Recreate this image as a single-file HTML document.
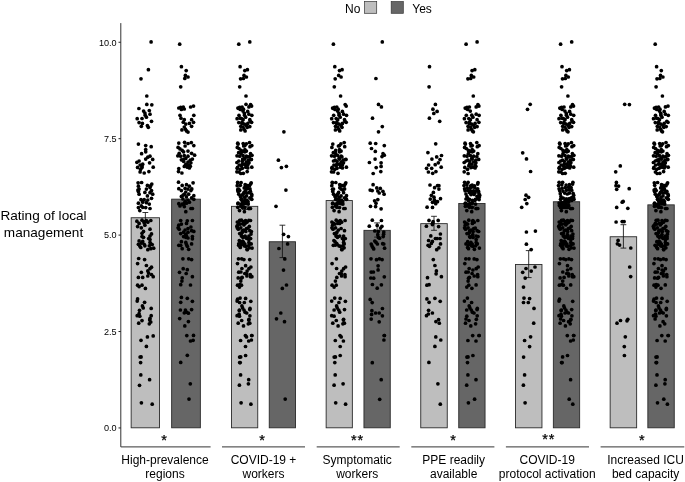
<!DOCTYPE html>
<html lang="en"><head><meta charset="utf-8"><title>Rating of local management</title>
<style>html,body{margin:0;padding:0;background:#fff}body{width:685px;height:482px;overflow:hidden}svg{display:block}text{font-family:"Liberation Sans",Arial,Helvetica,sans-serif;fill:#000}.t{font-size:9.1px;fill:#000}.l{font-size:12px}.yl{font-size:13.6px}.s{font-size:14.5px;letter-spacing:0.9px;stroke:#000;stroke-width:0.25px}</style></head><body>
<svg width="685" height="482" viewBox="0 0 685 482">
<rect width="685" height="482" fill="#fff"/>
<text class="l" x="345" y="13.1">No</text>
<rect x="364.6" y="1.6" width="12.1" height="11.7" fill="#bebebe" stroke="#333" stroke-width="0.7"/>
<rect x="391.2" y="1.6" width="12.1" height="11.7" fill="#666666" stroke="#333" stroke-width="0.7"/>
<text class="l" x="412.3" y="13.1">Yes</text>
<text class="yl" x="43.5" y="220" text-anchor="middle">Rating of local</text>
<text class="yl" x="43.5" y="236.5" text-anchor="middle">management</text>
<rect x="131.15" y="217.75" width="28.40" height="210.05" fill="#bebebe" stroke="#2a2a2a" stroke-width="0.9"/>
<rect x="171.65" y="199.15" width="28.70" height="228.65" fill="#666666" stroke="#2a2a2a" stroke-width="0.9"/>
<rect x="231.45" y="206.35" width="26.30" height="221.45" fill="#bebebe" stroke="#2a2a2a" stroke-width="0.9"/>
<rect x="269.25" y="241.75" width="26.30" height="186.05" fill="#666666" stroke="#2a2a2a" stroke-width="0.9"/>
<rect x="326.15" y="200.55" width="26.20" height="227.25" fill="#bebebe" stroke="#2a2a2a" stroke-width="0.9"/>
<rect x="363.95" y="230.35" width="26.30" height="197.45" fill="#666666" stroke="#2a2a2a" stroke-width="0.9"/>
<rect x="420.75" y="223.65" width="26.50" height="204.15" fill="#bebebe" stroke="#2a2a2a" stroke-width="0.9"/>
<rect x="458.75" y="203.45" width="26.30" height="224.35" fill="#666666" stroke="#2a2a2a" stroke-width="0.9"/>
<rect x="515.45" y="264.45" width="26.50" height="163.35" fill="#bebebe" stroke="#2a2a2a" stroke-width="0.9"/>
<rect x="553.35" y="201.75" width="26.30" height="226.05" fill="#666666" stroke="#2a2a2a" stroke-width="0.9"/>
<rect x="610.15" y="236.75" width="26.50" height="191.05" fill="#bebebe" stroke="#2a2a2a" stroke-width="0.9"/>
<rect x="647.85" y="204.85" width="26.40" height="222.95" fill="#666666" stroke="#2a2a2a" stroke-width="0.9"/>
<g stroke="#111" stroke-width="0.85" fill="none">
<path d="M142.45 212.50H148.25M145.35 212.50V222.30M142.45 222.30H148.25"/>
<path d="M183.10 194.80H188.90M186.00 194.80V202.80M183.10 202.80H188.90"/>
<path d="M241.70 202.50H247.50M244.60 202.50V209.50M241.70 209.50H247.50"/>
<path d="M279.50 225.20H285.30M282.40 225.20V257.60M279.50 257.60H285.30"/>
<path d="M336.35 196.70H342.15M339.25 196.70V203.70M336.35 203.70H342.15"/>
<path d="M374.20 222.90H380.00M377.10 222.90V237.10M374.20 237.10H380.00"/>
<path d="M431.10 216.30H436.90M434.00 216.30V230.30M431.10 230.30H436.90"/>
<path d="M469.00 199.60H474.80M471.90 199.60V206.60M469.00 206.60H474.80"/>
<path d="M525.80 250.60H531.60M528.70 250.60V277.60M525.80 277.60H531.60"/>
<path d="M563.60 197.90H569.40M566.50 197.90V204.90M563.60 204.90H569.40"/>
<path d="M620.50 224.70H626.30M623.40 224.70V248.10M620.50 248.10H626.30"/>
<path d="M658.15 201.00H663.95M661.05 201.00V208.00M658.15 208.00H663.95"/>
</g>
<g fill="#000">
<circle cx="151.1" cy="41.9" r="1.85"/>
<circle cx="148.4" cy="69.7" r="1.85"/>
<circle cx="141.0" cy="78.8" r="1.85"/>
<circle cx="146.8" cy="96.0" r="1.85"/>
<circle cx="146.8" cy="104.4" r="1.85"/>
<circle cx="151.8" cy="104.8" r="1.85"/>
<circle cx="138.9" cy="108.5" r="1.85"/>
<circle cx="143.6" cy="111.1" r="1.85"/>
<circle cx="149.3" cy="110.5" r="1.85"/>
<circle cx="144.9" cy="113.1" r="1.85"/>
<circle cx="150.0" cy="114.2" r="1.85"/>
<circle cx="145.2" cy="115.2" r="1.85"/>
<circle cx="146.4" cy="117.2" r="1.85"/>
<circle cx="142.0" cy="118.5" r="1.85"/>
<circle cx="137.2" cy="118.7" r="1.85"/>
<circle cx="151.5" cy="121.3" r="1.85"/>
<circle cx="139.1" cy="122.6" r="1.85"/>
<circle cx="142.4" cy="123.4" r="1.85"/>
<circle cx="141.3" cy="126.3" r="1.85"/>
<circle cx="147.4" cy="125.5" r="1.85"/>
<circle cx="148.3" cy="127.3" r="1.85"/>
<circle cx="138.4" cy="144.1" r="1.85"/>
<circle cx="145.7" cy="145.6" r="1.85"/>
<circle cx="151.2" cy="146.7" r="1.85"/>
<circle cx="145.7" cy="149.6" r="1.85"/>
<circle cx="145.7" cy="151.8" r="1.85"/>
<circle cx="141.6" cy="153.7" r="1.85"/>
<circle cx="150.0" cy="156.2" r="1.85"/>
<circle cx="147.8" cy="157.2" r="1.85"/>
<circle cx="145.7" cy="159.1" r="1.85"/>
<circle cx="152.7" cy="159.4" r="1.85"/>
<circle cx="139.1" cy="161.0" r="1.85"/>
<circle cx="136.9" cy="162.3" r="1.85"/>
<circle cx="149.6" cy="162.8" r="1.85"/>
<circle cx="142.7" cy="164.2" r="1.85"/>
<circle cx="140.1" cy="165.0" r="1.85"/>
<circle cx="137.6" cy="167.4" r="1.85"/>
<circle cx="142.0" cy="167.4" r="1.85"/>
<circle cx="153.2" cy="167.2" r="1.85"/>
<circle cx="140.6" cy="169.3" r="1.85"/>
<circle cx="140.1" cy="171.9" r="1.85"/>
<circle cx="144.2" cy="173.0" r="1.85"/>
<circle cx="148.9" cy="171.6" r="1.85"/>
<circle cx="138.1" cy="182.8" r="1.85"/>
<circle cx="141.6" cy="182.5" r="1.85"/>
<circle cx="151.8" cy="184.0" r="1.85"/>
<circle cx="147.4" cy="185.4" r="1.85"/>
<circle cx="138.4" cy="186.2" r="1.85"/>
<circle cx="150.0" cy="187.6" r="1.85"/>
<circle cx="139.1" cy="189.1" r="1.85"/>
<circle cx="146.4" cy="189.1" r="1.85"/>
<circle cx="151.5" cy="190.6" r="1.85"/>
<circle cx="138.4" cy="191.6" r="1.85"/>
<circle cx="144.9" cy="192.4" r="1.85"/>
<circle cx="150.0" cy="192.7" r="1.85"/>
<circle cx="152.7" cy="194.2" r="1.85"/>
<circle cx="139.1" cy="194.2" r="1.85"/>
<circle cx="147.4" cy="195.9" r="1.85"/>
<circle cx="151.5" cy="198.3" r="1.85"/>
<circle cx="141.0" cy="199.7" r="1.85"/>
<circle cx="144.2" cy="199.7" r="1.85"/>
<circle cx="147.8" cy="200.0" r="1.85"/>
<circle cx="138.4" cy="203.2" r="1.85"/>
<circle cx="142.7" cy="202.2" r="1.85"/>
<circle cx="146.4" cy="202.7" r="1.85"/>
<circle cx="149.3" cy="204.1" r="1.85"/>
<circle cx="141.3" cy="205.9" r="1.85"/>
<circle cx="138.4" cy="207.6" r="1.85"/>
<circle cx="145.7" cy="207.6" r="1.85"/>
<circle cx="150.0" cy="208.5" r="1.85"/>
<circle cx="139.8" cy="210.6" r="1.85"/>
<circle cx="142.7" cy="207.3" r="1.85"/>
<circle cx="136.9" cy="221.2" r="1.85"/>
<circle cx="142.0" cy="220.2" r="1.85"/>
<circle cx="146.4" cy="220.5" r="1.85"/>
<circle cx="150.8" cy="220.5" r="1.85"/>
<circle cx="144.2" cy="222.7" r="1.85"/>
<circle cx="139.1" cy="223.4" r="1.85"/>
<circle cx="144.9" cy="225.2" r="1.85"/>
<circle cx="137.6" cy="226.6" r="1.85"/>
<circle cx="141.3" cy="227.8" r="1.85"/>
<circle cx="150.0" cy="229.2" r="1.85"/>
<circle cx="143.5" cy="231.4" r="1.85"/>
<circle cx="142.0" cy="233.3" r="1.85"/>
<circle cx="151.5" cy="233.9" r="1.85"/>
<circle cx="147.8" cy="222.2" r="1.85"/>
<circle cx="142.0" cy="236.6" r="1.85"/>
<circle cx="150.0" cy="236.1" r="1.85"/>
<circle cx="143.5" cy="237.3" r="1.85"/>
<circle cx="150.0" cy="239.5" r="1.85"/>
<circle cx="139.1" cy="240.9" r="1.85"/>
<circle cx="142.7" cy="241.4" r="1.85"/>
<circle cx="141.3" cy="243.1" r="1.85"/>
<circle cx="138.4" cy="244.3" r="1.85"/>
<circle cx="144.2" cy="244.3" r="1.85"/>
<circle cx="150.8" cy="243.9" r="1.85"/>
<circle cx="152.2" cy="244.6" r="1.85"/>
<circle cx="139.8" cy="246.1" r="1.85"/>
<circle cx="144.9" cy="245.8" r="1.85"/>
<circle cx="149.3" cy="245.8" r="1.85"/>
<circle cx="153.7" cy="248.2" r="1.85"/>
<circle cx="150.8" cy="248.7" r="1.85"/>
<circle cx="147.8" cy="249.7" r="1.85"/>
<circle cx="150.0" cy="242.4" r="1.85"/>
<circle cx="138.7" cy="258.5" r="1.85"/>
<circle cx="144.6" cy="259.6" r="1.85"/>
<circle cx="137.6" cy="263.6" r="1.85"/>
<circle cx="146.4" cy="265.5" r="1.85"/>
<circle cx="151.5" cy="267.2" r="1.85"/>
<circle cx="150.0" cy="268.7" r="1.85"/>
<circle cx="147.8" cy="270.9" r="1.85"/>
<circle cx="141.3" cy="272.3" r="1.85"/>
<circle cx="148.6" cy="273.1" r="1.85"/>
<circle cx="151.5" cy="274.5" r="1.85"/>
<circle cx="147.8" cy="276.0" r="1.85"/>
<circle cx="153.2" cy="276.7" r="1.85"/>
<circle cx="138.4" cy="277.4" r="1.85"/>
<circle cx="142.7" cy="277.4" r="1.85"/>
<circle cx="137.6" cy="285.2" r="1.85"/>
<circle cx="142.0" cy="285.2" r="1.85"/>
<circle cx="139.1" cy="286.6" r="1.85"/>
<circle cx="145.4" cy="288.4" r="1.85"/>
<circle cx="137.6" cy="298.9" r="1.85"/>
<circle cx="137.2" cy="301.1" r="1.85"/>
<circle cx="144.6" cy="302.3" r="1.85"/>
<circle cx="142.4" cy="305.9" r="1.85"/>
<circle cx="143.2" cy="307.9" r="1.85"/>
<circle cx="151.2" cy="308.4" r="1.85"/>
<circle cx="139.5" cy="310.3" r="1.85"/>
<circle cx="139.1" cy="313.7" r="1.85"/>
<circle cx="137.2" cy="315.7" r="1.85"/>
<circle cx="139.8" cy="316.2" r="1.85"/>
<circle cx="151.2" cy="315.7" r="1.85"/>
<circle cx="150.0" cy="318.4" r="1.85"/>
<circle cx="149.7" cy="320.1" r="1.85"/>
<circle cx="142.0" cy="320.6" r="1.85"/>
<circle cx="150.8" cy="322.0" r="1.85"/>
<circle cx="138.7" cy="323.2" r="1.85"/>
<circle cx="149.3" cy="323.8" r="1.85"/>
<circle cx="153.2" cy="335.9" r="1.85"/>
<circle cx="147.4" cy="336.9" r="1.85"/>
<circle cx="141.0" cy="340.3" r="1.85"/>
<circle cx="146.4" cy="346.4" r="1.85"/>
<circle cx="140.1" cy="357.0" r="1.85"/>
<circle cx="140.6" cy="362.6" r="1.85"/>
<circle cx="140.8" cy="374.9" r="1.85"/>
<circle cx="149.6" cy="379.7" r="1.85"/>
<circle cx="139.5" cy="385.3" r="1.85"/>
<circle cx="141.4" cy="402.8" r="1.85"/>
<circle cx="152.2" cy="404.2" r="1.85"/>
<circle cx="141.1" cy="356.9" r="1.85"/>
<circle cx="137.9" cy="190.1" r="1.85"/>
<circle cx="142.6" cy="200.8" r="1.85"/>
<circle cx="140.8" cy="247.5" r="1.85"/>
<circle cx="150.7" cy="185.7" r="1.85"/>
<circle cx="144.2" cy="221.7" r="1.85"/>
<circle cx="148.7" cy="238.5" r="1.85"/>
<circle cx="142.0" cy="165.9" r="1.85"/>
<circle cx="179.7" cy="44.2" r="1.85"/>
<circle cx="181.4" cy="66.7" r="1.85"/>
<circle cx="186.2" cy="70.6" r="1.85"/>
<circle cx="185.4" cy="75.4" r="1.85"/>
<circle cx="188.0" cy="77.0" r="1.85"/>
<circle cx="184.8" cy="78.4" r="1.85"/>
<circle cx="180.7" cy="86.8" r="1.85"/>
<circle cx="178.8" cy="108.0" r="1.85"/>
<circle cx="180.7" cy="107.3" r="1.85"/>
<circle cx="183.3" cy="107.0" r="1.85"/>
<circle cx="184.3" cy="109.0" r="1.85"/>
<circle cx="181.4" cy="109.5" r="1.85"/>
<circle cx="190.6" cy="107.0" r="1.85"/>
<circle cx="193.5" cy="106.1" r="1.85"/>
<circle cx="180.0" cy="115.3" r="1.85"/>
<circle cx="193.8" cy="115.3" r="1.85"/>
<circle cx="181.0" cy="118.2" r="1.85"/>
<circle cx="184.3" cy="119.7" r="1.85"/>
<circle cx="191.6" cy="119.7" r="1.85"/>
<circle cx="183.3" cy="122.2" r="1.85"/>
<circle cx="193.5" cy="122.3" r="1.85"/>
<circle cx="189.4" cy="123.4" r="1.85"/>
<circle cx="185.8" cy="124.1" r="1.85"/>
<circle cx="191.6" cy="126.3" r="1.85"/>
<circle cx="184.3" cy="127.0" r="1.85"/>
<circle cx="181.9" cy="129.9" r="1.85"/>
<circle cx="185.4" cy="129.2" r="1.85"/>
<circle cx="186.5" cy="130.9" r="1.85"/>
<circle cx="188.0" cy="132.1" r="1.85"/>
<circle cx="178.8" cy="143.1" r="1.85"/>
<circle cx="184.6" cy="142.3" r="1.85"/>
<circle cx="188.0" cy="143.5" r="1.85"/>
<circle cx="191.3" cy="142.6" r="1.85"/>
<circle cx="193.8" cy="145.6" r="1.85"/>
<circle cx="185.1" cy="146.0" r="1.85"/>
<circle cx="178.1" cy="147.4" r="1.85"/>
<circle cx="180.0" cy="148.9" r="1.85"/>
<circle cx="182.2" cy="150.4" r="1.85"/>
<circle cx="188.0" cy="151.1" r="1.85"/>
<circle cx="183.6" cy="151.8" r="1.85"/>
<circle cx="191.6" cy="153.3" r="1.85"/>
<circle cx="179.2" cy="153.3" r="1.85"/>
<circle cx="194.6" cy="155.2" r="1.85"/>
<circle cx="177.8" cy="155.8" r="1.85"/>
<circle cx="180.7" cy="156.2" r="1.85"/>
<circle cx="184.3" cy="155.5" r="1.85"/>
<circle cx="188.0" cy="156.2" r="1.85"/>
<circle cx="185.8" cy="158.4" r="1.85"/>
<circle cx="192.4" cy="159.1" r="1.85"/>
<circle cx="181.4" cy="159.8" r="1.85"/>
<circle cx="190.2" cy="160.2" r="1.85"/>
<circle cx="183.6" cy="161.3" r="1.85"/>
<circle cx="188.0" cy="162.0" r="1.85"/>
<circle cx="190.9" cy="162.8" r="1.85"/>
<circle cx="185.8" cy="164.2" r="1.85"/>
<circle cx="189.4" cy="165.0" r="1.85"/>
<circle cx="184.3" cy="166.4" r="1.85"/>
<circle cx="187.3" cy="167.2" r="1.85"/>
<circle cx="178.8" cy="168.6" r="1.85"/>
<circle cx="189.4" cy="167.9" r="1.85"/>
<circle cx="178.5" cy="171.6" r="1.85"/>
<circle cx="181.9" cy="173.0" r="1.85"/>
<circle cx="178.5" cy="182.2" r="1.85"/>
<circle cx="193.1" cy="182.8" r="1.85"/>
<circle cx="186.5" cy="184.7" r="1.85"/>
<circle cx="182.2" cy="185.4" r="1.85"/>
<circle cx="189.4" cy="186.2" r="1.85"/>
<circle cx="178.8" cy="188.7" r="1.85"/>
<circle cx="185.1" cy="188.4" r="1.85"/>
<circle cx="188.0" cy="189.1" r="1.85"/>
<circle cx="181.4" cy="190.6" r="1.85"/>
<circle cx="190.9" cy="190.6" r="1.85"/>
<circle cx="185.8" cy="192.0" r="1.85"/>
<circle cx="184.3" cy="194.2" r="1.85"/>
<circle cx="188.7" cy="194.2" r="1.85"/>
<circle cx="193.8" cy="195.7" r="1.85"/>
<circle cx="181.4" cy="196.4" r="1.85"/>
<circle cx="186.5" cy="196.8" r="1.85"/>
<circle cx="191.6" cy="197.8" r="1.85"/>
<circle cx="182.9" cy="198.9" r="1.85"/>
<circle cx="193.8" cy="199.3" r="1.85"/>
<circle cx="188.0" cy="200.0" r="1.85"/>
<circle cx="185.1" cy="201.5" r="1.85"/>
<circle cx="178.8" cy="203.7" r="1.85"/>
<circle cx="182.2" cy="204.1" r="1.85"/>
<circle cx="186.5" cy="203.2" r="1.85"/>
<circle cx="180.0" cy="205.9" r="1.85"/>
<circle cx="184.3" cy="206.6" r="1.85"/>
<circle cx="189.4" cy="202.2" r="1.85"/>
<circle cx="190.9" cy="208.5" r="1.85"/>
<circle cx="192.4" cy="208.5" r="1.85"/>
<circle cx="185.8" cy="211.7" r="1.85"/>
<circle cx="183.6" cy="204.4" r="1.85"/>
<circle cx="180.7" cy="220.5" r="1.85"/>
<circle cx="187.3" cy="220.8" r="1.85"/>
<circle cx="192.4" cy="220.5" r="1.85"/>
<circle cx="186.5" cy="223.4" r="1.85"/>
<circle cx="178.8" cy="225.2" r="1.85"/>
<circle cx="181.4" cy="224.1" r="1.85"/>
<circle cx="190.9" cy="227.0" r="1.85"/>
<circle cx="178.1" cy="227.8" r="1.85"/>
<circle cx="188.0" cy="228.5" r="1.85"/>
<circle cx="179.2" cy="229.2" r="1.85"/>
<circle cx="185.1" cy="230.0" r="1.85"/>
<circle cx="191.6" cy="230.7" r="1.85"/>
<circle cx="183.6" cy="232.2" r="1.85"/>
<circle cx="188.0" cy="232.2" r="1.85"/>
<circle cx="193.8" cy="231.4" r="1.85"/>
<circle cx="180.7" cy="233.6" r="1.85"/>
<circle cx="185.8" cy="234.3" r="1.85"/>
<circle cx="183.6" cy="236.6" r="1.85"/>
<circle cx="186.5" cy="236.1" r="1.85"/>
<circle cx="192.4" cy="236.6" r="1.85"/>
<circle cx="188.0" cy="238.0" r="1.85"/>
<circle cx="185.8" cy="237.3" r="1.85"/>
<circle cx="192.4" cy="238.8" r="1.85"/>
<circle cx="181.4" cy="241.7" r="1.85"/>
<circle cx="185.8" cy="242.4" r="1.85"/>
<circle cx="186.5" cy="244.6" r="1.85"/>
<circle cx="191.6" cy="243.9" r="1.85"/>
<circle cx="178.8" cy="245.3" r="1.85"/>
<circle cx="180.7" cy="245.3" r="1.85"/>
<circle cx="187.3" cy="246.3" r="1.85"/>
<circle cx="182.2" cy="248.7" r="1.85"/>
<circle cx="188.7" cy="249.3" r="1.85"/>
<circle cx="182.9" cy="258.8" r="1.85"/>
<circle cx="188.7" cy="258.8" r="1.85"/>
<circle cx="191.6" cy="259.6" r="1.85"/>
<circle cx="183.2" cy="268.7" r="1.85"/>
<circle cx="187.3" cy="269.7" r="1.85"/>
<circle cx="179.5" cy="272.3" r="1.85"/>
<circle cx="186.2" cy="273.5" r="1.85"/>
<circle cx="192.4" cy="276.7" r="1.85"/>
<circle cx="182.2" cy="277.9" r="1.85"/>
<circle cx="181.9" cy="281.1" r="1.85"/>
<circle cx="180.7" cy="284.7" r="1.85"/>
<circle cx="190.5" cy="285.0" r="1.85"/>
<circle cx="181.4" cy="297.4" r="1.85"/>
<circle cx="187.3" cy="298.3" r="1.85"/>
<circle cx="192.4" cy="301.3" r="1.85"/>
<circle cx="180.7" cy="302.3" r="1.85"/>
<circle cx="180.4" cy="310.0" r="1.85"/>
<circle cx="185.4" cy="310.0" r="1.85"/>
<circle cx="191.6" cy="309.6" r="1.85"/>
<circle cx="186.5" cy="312.2" r="1.85"/>
<circle cx="184.3" cy="312.8" r="1.85"/>
<circle cx="188.4" cy="313.2" r="1.85"/>
<circle cx="179.7" cy="318.6" r="1.85"/>
<circle cx="188.4" cy="321.6" r="1.85"/>
<circle cx="184.8" cy="325.9" r="1.85"/>
<circle cx="186.8" cy="335.6" r="1.85"/>
<circle cx="193.5" cy="335.4" r="1.85"/>
<circle cx="193.1" cy="340.3" r="1.85"/>
<circle cx="190.5" cy="341.0" r="1.85"/>
<circle cx="187.3" cy="355.3" r="1.85"/>
<circle cx="180.7" cy="362.4" r="1.85"/>
<circle cx="190.3" cy="383.8" r="1.85"/>
<circle cx="189.0" cy="399.1" r="1.85"/>
<circle cx="190.3" cy="166.3" r="1.85"/>
<circle cx="183.8" cy="159.1" r="1.85"/>
<circle cx="184.6" cy="203.0" r="1.85"/>
<circle cx="187.3" cy="164.7" r="1.85"/>
<circle cx="191.8" cy="188.9" r="1.85"/>
<circle cx="183.1" cy="195.2" r="1.85"/>
<circle cx="249.8" cy="41.9" r="1.85"/>
<circle cx="247.4" cy="69.7" r="1.85"/>
<circle cx="240.6" cy="78.8" r="1.85"/>
<circle cx="246.0" cy="96.0" r="1.85"/>
<circle cx="238.8" cy="44.2" r="1.85"/>
<circle cx="240.1" cy="66.7" r="1.85"/>
<circle cx="244.8" cy="70.6" r="1.85"/>
<circle cx="244.0" cy="75.4" r="1.85"/>
<circle cx="246.4" cy="77.0" r="1.85"/>
<circle cx="243.4" cy="78.5" r="1.85"/>
<circle cx="239.7" cy="86.8" r="1.85"/>
<circle cx="246.0" cy="104.3" r="1.85"/>
<circle cx="250.6" cy="104.6" r="1.85"/>
<circle cx="238.7" cy="108.5" r="1.85"/>
<circle cx="243.0" cy="111.1" r="1.85"/>
<circle cx="247.7" cy="111.4" r="1.85"/>
<circle cx="244.4" cy="113.4" r="1.85"/>
<circle cx="248.9" cy="114.2" r="1.85"/>
<circle cx="244.5" cy="115.2" r="1.85"/>
<circle cx="245.6" cy="117.2" r="1.85"/>
<circle cx="241.5" cy="118.5" r="1.85"/>
<circle cx="237.1" cy="118.7" r="1.85"/>
<circle cx="250.3" cy="121.3" r="1.85"/>
<circle cx="238.8" cy="122.6" r="1.85"/>
<circle cx="241.9" cy="123.4" r="1.85"/>
<circle cx="240.8" cy="126.3" r="1.85"/>
<circle cx="246.5" cy="125.5" r="1.85"/>
<circle cx="247.3" cy="127.3" r="1.85"/>
<circle cx="238.1" cy="144.1" r="1.85"/>
<circle cx="244.9" cy="145.6" r="1.85"/>
<circle cx="250.0" cy="146.7" r="1.85"/>
<circle cx="244.9" cy="149.6" r="1.85"/>
<circle cx="244.9" cy="151.8" r="1.85"/>
<circle cx="241.1" cy="153.7" r="1.85"/>
<circle cx="249.5" cy="156.6" r="1.85"/>
<circle cx="247.3" cy="156.9" r="1.85"/>
<circle cx="244.9" cy="159.1" r="1.85"/>
<circle cx="251.4" cy="159.4" r="1.85"/>
<circle cx="238.8" cy="161.0" r="1.85"/>
<circle cx="236.9" cy="162.5" r="1.85"/>
<circle cx="248.6" cy="162.8" r="1.85"/>
<circle cx="242.2" cy="164.2" r="1.85"/>
<circle cx="239.2" cy="165.0" r="1.85"/>
<circle cx="237.5" cy="167.4" r="1.85"/>
<circle cx="242.3" cy="168.3" r="1.85"/>
<circle cx="251.8" cy="167.2" r="1.85"/>
<circle cx="240.2" cy="169.3" r="1.85"/>
<circle cx="237.9" cy="108.0" r="1.85"/>
<circle cx="239.7" cy="107.3" r="1.85"/>
<circle cx="242.1" cy="107.0" r="1.85"/>
<circle cx="243.5" cy="109.2" r="1.85"/>
<circle cx="240.4" cy="109.5" r="1.85"/>
<circle cx="248.9" cy="106.9" r="1.85"/>
<circle cx="251.6" cy="106.1" r="1.85"/>
<circle cx="239.0" cy="115.3" r="1.85"/>
<circle cx="251.8" cy="115.3" r="1.85"/>
<circle cx="240.0" cy="118.2" r="1.85"/>
<circle cx="243.1" cy="119.7" r="1.85"/>
<circle cx="249.8" cy="119.7" r="1.85"/>
<circle cx="242.1" cy="122.2" r="1.85"/>
<circle cx="251.6" cy="122.3" r="1.85"/>
<circle cx="247.8" cy="123.4" r="1.85"/>
<circle cx="244.4" cy="124.1" r="1.85"/>
<circle cx="249.8" cy="126.6" r="1.85"/>
<circle cx="243.1" cy="127.0" r="1.85"/>
<circle cx="240.8" cy="129.9" r="1.85"/>
<circle cx="244.0" cy="129.2" r="1.85"/>
<circle cx="245.1" cy="130.9" r="1.85"/>
<circle cx="237.7" cy="143.2" r="1.85"/>
<circle cx="243.2" cy="143.5" r="1.85"/>
<circle cx="246.3" cy="143.8" r="1.85"/>
<circle cx="249.5" cy="142.6" r="1.85"/>
<circle cx="251.8" cy="145.6" r="1.85"/>
<circle cx="243.7" cy="146.0" r="1.85"/>
<circle cx="237.3" cy="147.4" r="1.85"/>
<circle cx="239.0" cy="148.5" r="1.85"/>
<circle cx="241.1" cy="150.4" r="1.85"/>
<circle cx="246.4" cy="151.1" r="1.85"/>
<circle cx="242.8" cy="151.4" r="1.85"/>
<circle cx="250.5" cy="153.7" r="1.85"/>
<circle cx="238.6" cy="152.7" r="1.85"/>
<circle cx="252.0" cy="155.3" r="1.85"/>
<circle cx="237.0" cy="155.8" r="1.85"/>
<circle cx="239.7" cy="156.2" r="1.85"/>
<circle cx="243.1" cy="155.5" r="1.85"/>
<circle cx="246.4" cy="156.2" r="1.85"/>
<circle cx="244.4" cy="158.4" r="1.85"/>
<circle cx="250.6" cy="159.6" r="1.85"/>
<circle cx="248.5" cy="160.2" r="1.85"/>
<circle cx="242.4" cy="161.3" r="1.85"/>
<circle cx="246.4" cy="162.0" r="1.85"/>
<circle cx="248.9" cy="162.8" r="1.85"/>
<circle cx="244.4" cy="164.2" r="1.85"/>
<circle cx="247.8" cy="165.0" r="1.85"/>
<circle cx="245.8" cy="167.2" r="1.85"/>
<circle cx="237.2" cy="168.3" r="1.85"/>
<circle cx="247.8" cy="167.9" r="1.85"/>
<circle cx="239.0" cy="172.0" r="1.85"/>
<circle cx="243.3" cy="173.3" r="1.85"/>
<circle cx="247.2" cy="171.6" r="1.85"/>
<circle cx="237.9" cy="182.8" r="1.85"/>
<circle cx="241.1" cy="182.5" r="1.85"/>
<circle cx="250.6" cy="184.0" r="1.85"/>
<circle cx="246.5" cy="185.4" r="1.85"/>
<circle cx="237.2" cy="185.7" r="1.85"/>
<circle cx="247.8" cy="188.4" r="1.85"/>
<circle cx="238.8" cy="189.1" r="1.85"/>
<circle cx="245.2" cy="187.7" r="1.85"/>
<circle cx="250.4" cy="191.3" r="1.85"/>
<circle cx="238.1" cy="191.6" r="1.85"/>
<circle cx="244.0" cy="192.4" r="1.85"/>
<circle cx="248.9" cy="192.7" r="1.85"/>
<circle cx="251.6" cy="194.2" r="1.85"/>
<circle cx="238.8" cy="194.2" r="1.85"/>
<circle cx="246.5" cy="195.9" r="1.85"/>
<circle cx="251.1" cy="198.7" r="1.85"/>
<circle cx="241.1" cy="199.3" r="1.85"/>
<circle cx="244.9" cy="199.8" r="1.85"/>
<circle cx="246.9" cy="200.0" r="1.85"/>
<circle cx="238.1" cy="203.2" r="1.85"/>
<circle cx="243.1" cy="202.3" r="1.85"/>
<circle cx="246.3" cy="203.7" r="1.85"/>
<circle cx="248.3" cy="204.1" r="1.85"/>
<circle cx="240.8" cy="205.9" r="1.85"/>
<circle cx="237.8" cy="207.3" r="1.85"/>
<circle cx="244.9" cy="207.6" r="1.85"/>
<circle cx="248.8" cy="208.5" r="1.85"/>
<circle cx="239.5" cy="210.6" r="1.85"/>
<circle cx="242.2" cy="207.3" r="1.85"/>
<circle cx="237.3" cy="222.0" r="1.85"/>
<circle cx="241.5" cy="220.2" r="1.85"/>
<circle cx="245.6" cy="220.5" r="1.85"/>
<circle cx="248.9" cy="220.4" r="1.85"/>
<circle cx="243.1" cy="223.3" r="1.85"/>
<circle cx="238.8" cy="223.4" r="1.85"/>
<circle cx="243.9" cy="225.0" r="1.85"/>
<circle cx="236.9" cy="226.2" r="1.85"/>
<circle cx="240.8" cy="227.8" r="1.85"/>
<circle cx="248.0" cy="228.1" r="1.85"/>
<circle cx="242.3" cy="230.9" r="1.85"/>
<circle cx="241.5" cy="233.3" r="1.85"/>
<circle cx="251.0" cy="234.1" r="1.85"/>
<circle cx="246.9" cy="222.2" r="1.85"/>
<circle cx="236.9" cy="171.8" r="1.85"/>
<circle cx="240.8" cy="173.5" r="1.85"/>
<circle cx="237.6" cy="182.4" r="1.85"/>
<circle cx="251.2" cy="182.8" r="1.85"/>
<circle cx="245.1" cy="184.7" r="1.85"/>
<circle cx="240.3" cy="185.3" r="1.85"/>
<circle cx="248.1" cy="185.6" r="1.85"/>
<circle cx="237.9" cy="189.3" r="1.85"/>
<circle cx="244.2" cy="187.9" r="1.85"/>
<circle cx="246.4" cy="189.1" r="1.85"/>
<circle cx="239.7" cy="190.6" r="1.85"/>
<circle cx="245.3" cy="191.0" r="1.85"/>
<circle cx="243.1" cy="194.2" r="1.85"/>
<circle cx="246.7" cy="193.0" r="1.85"/>
<circle cx="251.8" cy="195.7" r="1.85"/>
<circle cx="240.4" cy="196.4" r="1.85"/>
<circle cx="244.6" cy="197.3" r="1.85"/>
<circle cx="249.8" cy="197.8" r="1.85"/>
<circle cx="241.7" cy="198.9" r="1.85"/>
<circle cx="251.8" cy="199.3" r="1.85"/>
<circle cx="245.7" cy="200.5" r="1.85"/>
<circle cx="244.4" cy="201.4" r="1.85"/>
<circle cx="237.9" cy="203.7" r="1.85"/>
<circle cx="241.1" cy="204.1" r="1.85"/>
<circle cx="245.1" cy="203.2" r="1.85"/>
<circle cx="243.1" cy="207.0" r="1.85"/>
<circle cx="248.1" cy="201.7" r="1.85"/>
<circle cx="249.1" cy="208.5" r="1.85"/>
<circle cx="250.5" cy="208.5" r="1.85"/>
<circle cx="244.4" cy="211.7" r="1.85"/>
<circle cx="242.4" cy="204.4" r="1.85"/>
<circle cx="239.7" cy="220.3" r="1.85"/>
<circle cx="245.3" cy="221.6" r="1.85"/>
<circle cx="250.5" cy="220.5" r="1.85"/>
<circle cx="245.1" cy="223.4" r="1.85"/>
<circle cx="237.9" cy="225.2" r="1.85"/>
<circle cx="240.4" cy="224.1" r="1.85"/>
<circle cx="249.3" cy="226.4" r="1.85"/>
<circle cx="237.3" cy="227.8" r="1.85"/>
<circle cx="246.4" cy="228.5" r="1.85"/>
<circle cx="238.3" cy="229.2" r="1.85"/>
<circle cx="243.7" cy="230.0" r="1.85"/>
<circle cx="249.8" cy="230.7" r="1.85"/>
<circle cx="242.4" cy="232.0" r="1.85"/>
<circle cx="245.8" cy="231.4" r="1.85"/>
<circle cx="251.4" cy="231.5" r="1.85"/>
<circle cx="239.7" cy="233.6" r="1.85"/>
<circle cx="241.4" cy="235.9" r="1.85"/>
<circle cx="248.9" cy="236.1" r="1.85"/>
<circle cx="242.9" cy="237.3" r="1.85"/>
<circle cx="248.9" cy="239.5" r="1.85"/>
<circle cx="239.3" cy="240.5" r="1.85"/>
<circle cx="242.7" cy="241.2" r="1.85"/>
<circle cx="241.9" cy="243.4" r="1.85"/>
<circle cx="238.7" cy="243.9" r="1.85"/>
<circle cx="242.4" cy="244.2" r="1.85"/>
<circle cx="249.6" cy="243.9" r="1.85"/>
<circle cx="251.2" cy="243.9" r="1.85"/>
<circle cx="239.8" cy="246.1" r="1.85"/>
<circle cx="244.2" cy="245.8" r="1.85"/>
<circle cx="248.3" cy="245.8" r="1.85"/>
<circle cx="252.1" cy="248.1" r="1.85"/>
<circle cx="249.5" cy="247.8" r="1.85"/>
<circle cx="247.2" cy="249.7" r="1.85"/>
<circle cx="248.9" cy="242.4" r="1.85"/>
<circle cx="238.5" cy="258.8" r="1.85"/>
<circle cx="243.9" cy="259.6" r="1.85"/>
<circle cx="237.5" cy="263.6" r="1.85"/>
<circle cx="245.6" cy="265.7" r="1.85"/>
<circle cx="250.9" cy="267.0" r="1.85"/>
<circle cx="248.9" cy="268.7" r="1.85"/>
<circle cx="247.1" cy="271.0" r="1.85"/>
<circle cx="240.9" cy="272.0" r="1.85"/>
<circle cx="246.7" cy="273.8" r="1.85"/>
<circle cx="250.3" cy="274.5" r="1.85"/>
<circle cx="246.9" cy="276.0" r="1.85"/>
<circle cx="251.9" cy="276.7" r="1.85"/>
<circle cx="238.2" cy="277.9" r="1.85"/>
<circle cx="242.2" cy="277.4" r="1.85"/>
<circle cx="237.5" cy="285.2" r="1.85"/>
<circle cx="241.5" cy="285.2" r="1.85"/>
<circle cx="239.5" cy="287.1" r="1.85"/>
<circle cx="237.6" cy="299.2" r="1.85"/>
<circle cx="242.4" cy="236.6" r="1.85"/>
<circle cx="245.1" cy="236.1" r="1.85"/>
<circle cx="246.6" cy="238.3" r="1.85"/>
<circle cx="245.8" cy="237.4" r="1.85"/>
<circle cx="250.6" cy="238.5" r="1.85"/>
<circle cx="240.4" cy="241.7" r="1.85"/>
<circle cx="243.6" cy="242.4" r="1.85"/>
<circle cx="244.9" cy="244.0" r="1.85"/>
<circle cx="238.7" cy="245.3" r="1.85"/>
<circle cx="240.8" cy="245.1" r="1.85"/>
<circle cx="245.8" cy="246.3" r="1.85"/>
<circle cx="247.1" cy="249.3" r="1.85"/>
<circle cx="241.7" cy="258.8" r="1.85"/>
<circle cx="249.7" cy="259.6" r="1.85"/>
<circle cx="241.9" cy="268.5" r="1.85"/>
<circle cx="238.7" cy="272.2" r="1.85"/>
<circle cx="244.8" cy="273.5" r="1.85"/>
<circle cx="250.5" cy="276.7" r="1.85"/>
<circle cx="241.2" cy="278.2" r="1.85"/>
<circle cx="240.8" cy="281.1" r="1.85"/>
<circle cx="239.8" cy="284.6" r="1.85"/>
<circle cx="240.1" cy="298.1" r="1.85"/>
<circle cx="245.6" cy="298.4" r="1.85"/>
<circle cx="237.1" cy="301.1" r="1.85"/>
<circle cx="244.3" cy="302.5" r="1.85"/>
<circle cx="241.9" cy="305.9" r="1.85"/>
<circle cx="242.6" cy="307.9" r="1.85"/>
<circle cx="250.0" cy="308.4" r="1.85"/>
<circle cx="239.3" cy="310.5" r="1.85"/>
<circle cx="239.1" cy="314.2" r="1.85"/>
<circle cx="237.1" cy="315.7" r="1.85"/>
<circle cx="239.5" cy="316.2" r="1.85"/>
<circle cx="249.9" cy="315.8" r="1.85"/>
<circle cx="249.0" cy="319.3" r="1.85"/>
<circle cx="248.7" cy="320.1" r="1.85"/>
<circle cx="241.7" cy="320.5" r="1.85"/>
<circle cx="249.8" cy="323.2" r="1.85"/>
<circle cx="238.2" cy="323.2" r="1.85"/>
<circle cx="248.3" cy="323.8" r="1.85"/>
<circle cx="251.8" cy="335.5" r="1.85"/>
<circle cx="246.5" cy="336.9" r="1.85"/>
<circle cx="240.6" cy="340.5" r="1.85"/>
<circle cx="245.5" cy="346.5" r="1.85"/>
<circle cx="239.6" cy="357.1" r="1.85"/>
<circle cx="240.2" cy="362.6" r="1.85"/>
<circle cx="250.8" cy="301.3" r="1.85"/>
<circle cx="239.6" cy="302.5" r="1.85"/>
<circle cx="239.4" cy="310.0" r="1.85"/>
<circle cx="244.0" cy="310.0" r="1.85"/>
<circle cx="249.8" cy="309.6" r="1.85"/>
<circle cx="245.1" cy="312.2" r="1.85"/>
<circle cx="246.7" cy="313.0" r="1.85"/>
<circle cx="243.5" cy="325.9" r="1.85"/>
<circle cx="245.4" cy="335.6" r="1.85"/>
<circle cx="251.8" cy="335.5" r="1.85"/>
<circle cx="251.4" cy="340.0" r="1.85"/>
<circle cx="248.7" cy="341.0" r="1.85"/>
<circle cx="245.6" cy="355.5" r="1.85"/>
<circle cx="239.7" cy="362.6" r="1.85"/>
<circle cx="240.6" cy="374.9" r="1.85"/>
<circle cx="248.7" cy="379.7" r="1.85"/>
<circle cx="239.4" cy="385.2" r="1.85"/>
<circle cx="241.1" cy="402.8" r="1.85"/>
<circle cx="250.9" cy="404.2" r="1.85"/>
<circle cx="248.4" cy="383.8" r="1.85"/>
<circle cx="240.7" cy="356.9" r="1.85"/>
<circle cx="242.6" cy="159.1" r="1.85"/>
<circle cx="237.7" cy="190.1" r="1.85"/>
<circle cx="242.1" cy="200.8" r="1.85"/>
<circle cx="243.3" cy="203.0" r="1.85"/>
<circle cx="240.3" cy="247.5" r="1.85"/>
<circle cx="245.8" cy="164.7" r="1.85"/>
<circle cx="249.5" cy="185.7" r="1.85"/>
<circle cx="250.0" cy="188.9" r="1.85"/>
<circle cx="241.9" cy="195.2" r="1.85"/>
<circle cx="243.6" cy="221.7" r="1.85"/>
<circle cx="247.7" cy="238.5" r="1.85"/>
<circle cx="241.5" cy="165.9" r="1.85"/>
<circle cx="283.9" cy="131.8" r="1.85"/>
<circle cx="278.4" cy="160.2" r="1.85"/>
<circle cx="281.4" cy="167.6" r="1.85"/>
<circle cx="286.4" cy="166.3" r="1.85"/>
<circle cx="285.9" cy="190.1" r="1.85"/>
<circle cx="276.0" cy="206.3" r="1.85"/>
<circle cx="283.6" cy="234.3" r="1.85"/>
<circle cx="288.4" cy="236.6" r="1.85"/>
<circle cx="287.6" cy="243.9" r="1.85"/>
<circle cx="278.9" cy="248.5" r="1.85"/>
<circle cx="284.8" cy="258.9" r="1.85"/>
<circle cx="283.5" cy="270.1" r="1.85"/>
<circle cx="286.5" cy="285.0" r="1.85"/>
<circle cx="282.3" cy="288.4" r="1.85"/>
<circle cx="280.8" cy="313.0" r="1.85"/>
<circle cx="276.5" cy="318.8" r="1.85"/>
<circle cx="284.5" cy="321.7" r="1.85"/>
<circle cx="285.2" cy="399.1" r="1.85"/>
<circle cx="342.1" cy="69.7" r="1.85"/>
<circle cx="335.2" cy="78.8" r="1.85"/>
<circle cx="340.6" cy="96.0" r="1.85"/>
<circle cx="333.4" cy="44.2" r="1.85"/>
<circle cx="334.8" cy="66.7" r="1.85"/>
<circle cx="339.5" cy="70.6" r="1.85"/>
<circle cx="338.7" cy="75.4" r="1.85"/>
<circle cx="341.1" cy="77.0" r="1.85"/>
<circle cx="334.3" cy="86.8" r="1.85"/>
<circle cx="345.2" cy="104.6" r="1.85"/>
<circle cx="333.3" cy="108.5" r="1.85"/>
<circle cx="337.6" cy="111.1" r="1.85"/>
<circle cx="342.4" cy="111.4" r="1.85"/>
<circle cx="339.0" cy="113.4" r="1.85"/>
<circle cx="343.6" cy="114.2" r="1.85"/>
<circle cx="339.1" cy="115.2" r="1.85"/>
<circle cx="340.2" cy="117.2" r="1.85"/>
<circle cx="336.2" cy="118.5" r="1.85"/>
<circle cx="331.7" cy="118.7" r="1.85"/>
<circle cx="345.0" cy="121.3" r="1.85"/>
<circle cx="333.5" cy="122.6" r="1.85"/>
<circle cx="336.6" cy="123.4" r="1.85"/>
<circle cx="335.5" cy="126.3" r="1.85"/>
<circle cx="341.1" cy="125.5" r="1.85"/>
<circle cx="342.0" cy="127.3" r="1.85"/>
<circle cx="332.8" cy="144.1" r="1.85"/>
<circle cx="339.5" cy="145.6" r="1.85"/>
<circle cx="344.7" cy="146.7" r="1.85"/>
<circle cx="339.5" cy="149.6" r="1.85"/>
<circle cx="339.5" cy="151.8" r="1.85"/>
<circle cx="335.8" cy="153.7" r="1.85"/>
<circle cx="341.9" cy="156.9" r="1.85"/>
<circle cx="339.5" cy="159.1" r="1.85"/>
<circle cx="346.0" cy="159.4" r="1.85"/>
<circle cx="333.5" cy="161.0" r="1.85"/>
<circle cx="336.8" cy="164.2" r="1.85"/>
<circle cx="333.9" cy="165.0" r="1.85"/>
<circle cx="332.1" cy="167.4" r="1.85"/>
<circle cx="337.0" cy="168.3" r="1.85"/>
<circle cx="346.4" cy="167.2" r="1.85"/>
<circle cx="334.8" cy="169.3" r="1.85"/>
<circle cx="332.6" cy="108.0" r="1.85"/>
<circle cx="334.4" cy="107.3" r="1.85"/>
<circle cx="336.8" cy="107.0" r="1.85"/>
<circle cx="338.2" cy="109.2" r="1.85"/>
<circle cx="335.0" cy="109.5" r="1.85"/>
<circle cx="346.2" cy="106.1" r="1.85"/>
<circle cx="333.7" cy="115.3" r="1.85"/>
<circle cx="346.5" cy="115.3" r="1.85"/>
<circle cx="337.7" cy="119.7" r="1.85"/>
<circle cx="344.5" cy="119.7" r="1.85"/>
<circle cx="336.8" cy="122.2" r="1.85"/>
<circle cx="346.2" cy="122.3" r="1.85"/>
<circle cx="342.4" cy="123.4" r="1.85"/>
<circle cx="339.1" cy="124.1" r="1.85"/>
<circle cx="337.7" cy="127.0" r="1.85"/>
<circle cx="335.4" cy="129.9" r="1.85"/>
<circle cx="338.7" cy="129.2" r="1.85"/>
<circle cx="339.7" cy="130.9" r="1.85"/>
<circle cx="340.9" cy="143.8" r="1.85"/>
<circle cx="344.2" cy="142.6" r="1.85"/>
<circle cx="338.4" cy="146.0" r="1.85"/>
<circle cx="331.9" cy="147.4" r="1.85"/>
<circle cx="335.7" cy="150.4" r="1.85"/>
<circle cx="341.1" cy="151.1" r="1.85"/>
<circle cx="333.3" cy="152.7" r="1.85"/>
<circle cx="331.6" cy="155.8" r="1.85"/>
<circle cx="334.4" cy="156.2" r="1.85"/>
<circle cx="337.7" cy="155.5" r="1.85"/>
<circle cx="341.1" cy="156.2" r="1.85"/>
<circle cx="339.1" cy="158.4" r="1.85"/>
<circle cx="345.3" cy="159.6" r="1.85"/>
<circle cx="335.2" cy="160.2" r="1.85"/>
<circle cx="343.1" cy="160.2" r="1.85"/>
<circle cx="337.0" cy="161.3" r="1.85"/>
<circle cx="341.1" cy="162.0" r="1.85"/>
<circle cx="343.5" cy="162.8" r="1.85"/>
<circle cx="339.1" cy="164.2" r="1.85"/>
<circle cx="342.4" cy="165.0" r="1.85"/>
<circle cx="340.4" cy="167.2" r="1.85"/>
<circle cx="331.9" cy="168.3" r="1.85"/>
<circle cx="342.4" cy="167.9" r="1.85"/>
<circle cx="333.6" cy="172.0" r="1.85"/>
<circle cx="338.0" cy="173.3" r="1.85"/>
<circle cx="332.5" cy="182.8" r="1.85"/>
<circle cx="335.8" cy="182.5" r="1.85"/>
<circle cx="345.2" cy="184.0" r="1.85"/>
<circle cx="341.1" cy="185.4" r="1.85"/>
<circle cx="331.8" cy="185.7" r="1.85"/>
<circle cx="333.5" cy="189.1" r="1.85"/>
<circle cx="339.8" cy="187.7" r="1.85"/>
<circle cx="332.8" cy="191.6" r="1.85"/>
<circle cx="338.6" cy="192.4" r="1.85"/>
<circle cx="343.6" cy="192.7" r="1.85"/>
<circle cx="333.5" cy="194.2" r="1.85"/>
<circle cx="341.1" cy="195.9" r="1.85"/>
<circle cx="345.8" cy="198.7" r="1.85"/>
<circle cx="335.7" cy="199.3" r="1.85"/>
<circle cx="339.5" cy="199.8" r="1.85"/>
<circle cx="341.6" cy="200.0" r="1.85"/>
<circle cx="332.8" cy="203.2" r="1.85"/>
<circle cx="337.8" cy="202.3" r="1.85"/>
<circle cx="341.0" cy="203.7" r="1.85"/>
<circle cx="342.9" cy="204.1" r="1.85"/>
<circle cx="335.5" cy="205.9" r="1.85"/>
<circle cx="332.4" cy="207.3" r="1.85"/>
<circle cx="339.5" cy="207.6" r="1.85"/>
<circle cx="334.1" cy="210.6" r="1.85"/>
<circle cx="336.8" cy="207.3" r="1.85"/>
<circle cx="331.9" cy="222.0" r="1.85"/>
<circle cx="336.2" cy="220.2" r="1.85"/>
<circle cx="340.2" cy="220.5" r="1.85"/>
<circle cx="337.8" cy="223.3" r="1.85"/>
<circle cx="333.5" cy="223.4" r="1.85"/>
<circle cx="335.5" cy="227.8" r="1.85"/>
<circle cx="336.2" cy="233.3" r="1.85"/>
<circle cx="341.6" cy="222.2" r="1.85"/>
<circle cx="331.5" cy="171.8" r="1.85"/>
<circle cx="332.2" cy="182.4" r="1.85"/>
<circle cx="345.8" cy="182.8" r="1.85"/>
<circle cx="339.7" cy="184.7" r="1.85"/>
<circle cx="342.7" cy="185.6" r="1.85"/>
<circle cx="332.5" cy="189.3" r="1.85"/>
<circle cx="341.1" cy="189.1" r="1.85"/>
<circle cx="342.8" cy="190.1" r="1.85"/>
<circle cx="337.7" cy="194.2" r="1.85"/>
<circle cx="346.5" cy="195.7" r="1.85"/>
<circle cx="335.0" cy="196.4" r="1.85"/>
<circle cx="339.2" cy="197.3" r="1.85"/>
<circle cx="344.5" cy="197.8" r="1.85"/>
<circle cx="336.4" cy="198.9" r="1.85"/>
<circle cx="346.5" cy="199.3" r="1.85"/>
<circle cx="339.1" cy="201.4" r="1.85"/>
<circle cx="332.6" cy="203.7" r="1.85"/>
<circle cx="335.7" cy="204.1" r="1.85"/>
<circle cx="339.7" cy="203.2" r="1.85"/>
<circle cx="342.7" cy="201.7" r="1.85"/>
<circle cx="343.8" cy="208.5" r="1.85"/>
<circle cx="345.1" cy="208.5" r="1.85"/>
<circle cx="339.1" cy="211.7" r="1.85"/>
<circle cx="337.0" cy="204.4" r="1.85"/>
<circle cx="340.0" cy="221.6" r="1.85"/>
<circle cx="345.1" cy="220.5" r="1.85"/>
<circle cx="339.7" cy="223.4" r="1.85"/>
<circle cx="332.6" cy="225.2" r="1.85"/>
<circle cx="335.0" cy="224.1" r="1.85"/>
<circle cx="331.9" cy="227.8" r="1.85"/>
<circle cx="341.1" cy="228.5" r="1.85"/>
<circle cx="333.0" cy="229.2" r="1.85"/>
<circle cx="338.4" cy="230.0" r="1.85"/>
<circle cx="344.5" cy="230.7" r="1.85"/>
<circle cx="337.0" cy="232.0" r="1.85"/>
<circle cx="334.4" cy="233.6" r="1.85"/>
<circle cx="336.0" cy="235.9" r="1.85"/>
<circle cx="343.6" cy="236.1" r="1.85"/>
<circle cx="337.5" cy="237.3" r="1.85"/>
<circle cx="343.6" cy="239.5" r="1.85"/>
<circle cx="333.9" cy="240.5" r="1.85"/>
<circle cx="336.5" cy="243.4" r="1.85"/>
<circle cx="337.0" cy="244.2" r="1.85"/>
<circle cx="344.2" cy="243.9" r="1.85"/>
<circle cx="338.9" cy="245.8" r="1.85"/>
<circle cx="342.9" cy="245.8" r="1.85"/>
<circle cx="344.1" cy="247.8" r="1.85"/>
<circle cx="341.9" cy="249.7" r="1.85"/>
<circle cx="343.6" cy="242.4" r="1.85"/>
<circle cx="332.1" cy="263.6" r="1.85"/>
<circle cx="345.6" cy="267.0" r="1.85"/>
<circle cx="343.6" cy="268.7" r="1.85"/>
<circle cx="341.8" cy="271.0" r="1.85"/>
<circle cx="341.3" cy="273.8" r="1.85"/>
<circle cx="344.9" cy="274.5" r="1.85"/>
<circle cx="341.6" cy="276.0" r="1.85"/>
<circle cx="336.8" cy="277.4" r="1.85"/>
<circle cx="332.1" cy="285.2" r="1.85"/>
<circle cx="336.2" cy="285.2" r="1.85"/>
<circle cx="334.1" cy="287.1" r="1.85"/>
<circle cx="337.0" cy="236.6" r="1.85"/>
<circle cx="339.7" cy="236.1" r="1.85"/>
<circle cx="345.3" cy="238.5" r="1.85"/>
<circle cx="335.0" cy="241.7" r="1.85"/>
<circle cx="333.3" cy="245.3" r="1.85"/>
<circle cx="335.4" cy="245.1" r="1.85"/>
<circle cx="340.4" cy="246.3" r="1.85"/>
<circle cx="341.8" cy="249.3" r="1.85"/>
<circle cx="336.4" cy="258.8" r="1.85"/>
<circle cx="336.6" cy="268.5" r="1.85"/>
<circle cx="339.5" cy="273.5" r="1.85"/>
<circle cx="345.1" cy="276.7" r="1.85"/>
<circle cx="335.4" cy="281.1" r="1.85"/>
<circle cx="334.7" cy="298.1" r="1.85"/>
<circle cx="340.2" cy="298.4" r="1.85"/>
<circle cx="331.7" cy="301.1" r="1.85"/>
<circle cx="338.9" cy="302.5" r="1.85"/>
<circle cx="336.6" cy="305.9" r="1.85"/>
<circle cx="337.2" cy="307.9" r="1.85"/>
<circle cx="331.7" cy="315.7" r="1.85"/>
<circle cx="334.1" cy="316.2" r="1.85"/>
<circle cx="343.6" cy="319.3" r="1.85"/>
<circle cx="343.4" cy="320.1" r="1.85"/>
<circle cx="336.3" cy="320.5" r="1.85"/>
<circle cx="344.4" cy="323.2" r="1.85"/>
<circle cx="332.8" cy="323.2" r="1.85"/>
<circle cx="342.9" cy="323.8" r="1.85"/>
<circle cx="341.2" cy="336.9" r="1.85"/>
<circle cx="335.3" cy="340.5" r="1.85"/>
<circle cx="340.2" cy="346.5" r="1.85"/>
<circle cx="334.2" cy="357.1" r="1.85"/>
<circle cx="334.8" cy="362.6" r="1.85"/>
<circle cx="345.4" cy="301.3" r="1.85"/>
<circle cx="334.1" cy="310.0" r="1.85"/>
<circle cx="338.7" cy="310.0" r="1.85"/>
<circle cx="344.5" cy="309.6" r="1.85"/>
<circle cx="339.7" cy="312.2" r="1.85"/>
<circle cx="338.1" cy="325.9" r="1.85"/>
<circle cx="340.0" cy="335.6" r="1.85"/>
<circle cx="343.4" cy="341.0" r="1.85"/>
<circle cx="340.2" cy="355.5" r="1.85"/>
<circle cx="335.2" cy="374.9" r="1.85"/>
<circle cx="334.1" cy="385.2" r="1.85"/>
<circle cx="335.7" cy="402.8" r="1.85"/>
<circle cx="345.6" cy="404.2" r="1.85"/>
<circle cx="343.1" cy="383.8" r="1.85"/>
<circle cx="335.4" cy="356.9" r="1.85"/>
<circle cx="340.5" cy="164.7" r="1.85"/>
<circle cx="344.2" cy="185.7" r="1.85"/>
<circle cx="344.6" cy="188.9" r="1.85"/>
<circle cx="336.6" cy="195.2" r="1.85"/>
<circle cx="338.2" cy="221.7" r="1.85"/>
<circle cx="342.4" cy="238.5" r="1.85"/>
<circle cx="336.2" cy="165.9" r="1.85"/>
<circle cx="382.3" cy="41.9" r="1.85"/>
<circle cx="375.9" cy="78.5" r="1.85"/>
<circle cx="378.5" cy="104.4" r="1.85"/>
<circle cx="381.4" cy="106.9" r="1.85"/>
<circle cx="372.5" cy="118.2" r="1.85"/>
<circle cx="382.3" cy="126.6" r="1.85"/>
<circle cx="378.5" cy="131.8" r="1.85"/>
<circle cx="370.2" cy="143.2" r="1.85"/>
<circle cx="375.7" cy="143.5" r="1.85"/>
<circle cx="384.3" cy="145.6" r="1.85"/>
<circle cx="371.5" cy="148.5" r="1.85"/>
<circle cx="375.3" cy="151.4" r="1.85"/>
<circle cx="383.0" cy="153.7" r="1.85"/>
<circle cx="384.3" cy="155.2" r="1.85"/>
<circle cx="382.0" cy="156.6" r="1.85"/>
<circle cx="375.1" cy="159.1" r="1.85"/>
<circle cx="369.4" cy="162.5" r="1.85"/>
<circle cx="381.1" cy="162.8" r="1.85"/>
<circle cx="381.1" cy="166.4" r="1.85"/>
<circle cx="376.2" cy="167.6" r="1.85"/>
<circle cx="380.8" cy="171.6" r="1.85"/>
<circle cx="373.2" cy="173.5" r="1.85"/>
<circle cx="373.1" cy="184.7" r="1.85"/>
<circle cx="376.8" cy="187.9" r="1.85"/>
<circle cx="380.3" cy="188.4" r="1.85"/>
<circle cx="370.2" cy="190.1" r="1.85"/>
<circle cx="372.2" cy="190.6" r="1.85"/>
<circle cx="377.8" cy="191.0" r="1.85"/>
<circle cx="382.9" cy="191.3" r="1.85"/>
<circle cx="379.2" cy="193.0" r="1.85"/>
<circle cx="384.1" cy="194.2" r="1.85"/>
<circle cx="377.8" cy="199.6" r="1.85"/>
<circle cx="374.6" cy="200.8" r="1.85"/>
<circle cx="376.0" cy="203.2" r="1.85"/>
<circle cx="370.5" cy="206.3" r="1.85"/>
<circle cx="375.6" cy="206.6" r="1.85"/>
<circle cx="381.1" cy="208.8" r="1.85"/>
<circle cx="372.3" cy="220.2" r="1.85"/>
<circle cx="381.4" cy="220.5" r="1.85"/>
<circle cx="369.3" cy="226.2" r="1.85"/>
<circle cx="377.2" cy="225.4" r="1.85"/>
<circle cx="381.9" cy="226.3" r="1.85"/>
<circle cx="380.5" cy="228.1" r="1.85"/>
<circle cx="374.8" cy="230.9" r="1.85"/>
<circle cx="378.3" cy="231.4" r="1.85"/>
<circle cx="383.8" cy="232.0" r="1.85"/>
<circle cx="377.8" cy="234.7" r="1.85"/>
<circle cx="383.6" cy="234.2" r="1.85"/>
<circle cx="383.2" cy="236.6" r="1.85"/>
<circle cx="378.3" cy="237.4" r="1.85"/>
<circle cx="379.6" cy="238.2" r="1.85"/>
<circle cx="374.8" cy="241.1" r="1.85"/>
<circle cx="376.1" cy="242.4" r="1.85"/>
<circle cx="377.4" cy="244.0" r="1.85"/>
<circle cx="371.2" cy="244.0" r="1.85"/>
<circle cx="372.0" cy="245.9" r="1.85"/>
<circle cx="372.9" cy="247.5" r="1.85"/>
<circle cx="373.7" cy="248.9" r="1.85"/>
<circle cx="382.7" cy="243.7" r="1.85"/>
<circle cx="383.8" cy="244.0" r="1.85"/>
<circle cx="384.6" cy="248.2" r="1.85"/>
<circle cx="371.0" cy="258.8" r="1.85"/>
<circle cx="376.5" cy="259.7" r="1.85"/>
<circle cx="379.4" cy="258.8" r="1.85"/>
<circle cx="382.1" cy="259.6" r="1.85"/>
<circle cx="378.1" cy="265.8" r="1.85"/>
<circle cx="378.1" cy="269.9" r="1.85"/>
<circle cx="371.2" cy="272.1" r="1.85"/>
<circle cx="373.4" cy="272.0" r="1.85"/>
<circle cx="384.3" cy="276.8" r="1.85"/>
<circle cx="370.8" cy="278.0" r="1.85"/>
<circle cx="373.7" cy="278.2" r="1.85"/>
<circle cx="372.4" cy="284.5" r="1.85"/>
<circle cx="381.4" cy="284.8" r="1.85"/>
<circle cx="377.2" cy="288.2" r="1.85"/>
<circle cx="370.2" cy="299.4" r="1.85"/>
<circle cx="372.2" cy="302.6" r="1.85"/>
<circle cx="382.4" cy="308.5" r="1.85"/>
<circle cx="371.9" cy="310.7" r="1.85"/>
<circle cx="375.6" cy="313.0" r="1.85"/>
<circle cx="379.2" cy="313.0" r="1.85"/>
<circle cx="371.6" cy="314.4" r="1.85"/>
<circle cx="382.4" cy="315.8" r="1.85"/>
<circle cx="371.2" cy="319.1" r="1.85"/>
<circle cx="379.2" cy="321.8" r="1.85"/>
<circle cx="384.3" cy="335.5" r="1.85"/>
<circle cx="384.3" cy="335.5" r="1.85"/>
<circle cx="383.9" cy="340.0" r="1.85"/>
<circle cx="372.3" cy="362.7" r="1.85"/>
<circle cx="381.2" cy="379.7" r="1.85"/>
<circle cx="379.7" cy="399.3" r="1.85"/>
<circle cx="429.5" cy="66.7" r="1.85"/>
<circle cx="429.1" cy="86.8" r="1.85"/>
<circle cx="435.4" cy="104.4" r="1.85"/>
<circle cx="432.9" cy="109.2" r="1.85"/>
<circle cx="437.1" cy="111.4" r="1.85"/>
<circle cx="433.8" cy="113.4" r="1.85"/>
<circle cx="429.4" cy="118.2" r="1.85"/>
<circle cx="439.7" cy="121.3" r="1.85"/>
<circle cx="435.7" cy="143.8" r="1.85"/>
<circle cx="427.9" cy="152.6" r="1.85"/>
<circle cx="441.5" cy="155.5" r="1.85"/>
<circle cx="436.7" cy="156.9" r="1.85"/>
<circle cx="431.9" cy="159.1" r="1.85"/>
<circle cx="440.0" cy="159.6" r="1.85"/>
<circle cx="438.3" cy="162.8" r="1.85"/>
<circle cx="435.2" cy="164.7" r="1.85"/>
<circle cx="428.6" cy="165.0" r="1.85"/>
<circle cx="441.2" cy="167.2" r="1.85"/>
<circle cx="426.6" cy="168.3" r="1.85"/>
<circle cx="431.7" cy="168.3" r="1.85"/>
<circle cx="428.4" cy="172.0" r="1.85"/>
<circle cx="432.7" cy="173.3" r="1.85"/>
<circle cx="435.9" cy="171.6" r="1.85"/>
<circle cx="430.0" cy="185.0" r="1.85"/>
<circle cx="434.6" cy="187.7" r="1.85"/>
<circle cx="437.5" cy="185.6" r="1.85"/>
<circle cx="438.9" cy="185.7" r="1.85"/>
<circle cx="438.9" cy="189.1" r="1.85"/>
<circle cx="433.4" cy="192.4" r="1.85"/>
<circle cx="431.4" cy="195.3" r="1.85"/>
<circle cx="434.0" cy="197.2" r="1.85"/>
<circle cx="430.3" cy="199.1" r="1.85"/>
<circle cx="440.5" cy="198.7" r="1.85"/>
<circle cx="434.3" cy="199.8" r="1.85"/>
<circle cx="435.4" cy="201.3" r="1.85"/>
<circle cx="437.5" cy="201.7" r="1.85"/>
<circle cx="432.5" cy="202.3" r="1.85"/>
<circle cx="435.7" cy="203.7" r="1.85"/>
<circle cx="427.1" cy="207.2" r="1.85"/>
<circle cx="432.5" cy="207.4" r="1.85"/>
<circle cx="429.0" cy="220.4" r="1.85"/>
<circle cx="438.2" cy="220.4" r="1.85"/>
<circle cx="433.1" cy="221.7" r="1.85"/>
<circle cx="432.5" cy="223.3" r="1.85"/>
<circle cx="432.4" cy="224.6" r="1.85"/>
<circle cx="426.4" cy="226.2" r="1.85"/>
<circle cx="438.6" cy="226.6" r="1.85"/>
<circle cx="440.4" cy="234.0" r="1.85"/>
<circle cx="430.8" cy="235.9" r="1.85"/>
<circle cx="435.4" cy="238.5" r="1.85"/>
<circle cx="437.1" cy="238.5" r="1.85"/>
<circle cx="440.0" cy="238.5" r="1.85"/>
<circle cx="428.6" cy="240.5" r="1.85"/>
<circle cx="432.4" cy="241.4" r="1.85"/>
<circle cx="431.3" cy="243.4" r="1.85"/>
<circle cx="440.5" cy="243.9" r="1.85"/>
<circle cx="428.1" cy="245.3" r="1.85"/>
<circle cx="429.5" cy="246.3" r="1.85"/>
<circle cx="438.9" cy="247.8" r="1.85"/>
<circle cx="436.7" cy="249.7" r="1.85"/>
<circle cx="433.3" cy="259.6" r="1.85"/>
<circle cx="434.9" cy="265.5" r="1.85"/>
<circle cx="436.4" cy="270.9" r="1.85"/>
<circle cx="436.1" cy="273.8" r="1.85"/>
<circle cx="441.4" cy="276.7" r="1.85"/>
<circle cx="427.5" cy="277.7" r="1.85"/>
<circle cx="429.1" cy="284.7" r="1.85"/>
<circle cx="426.9" cy="285.2" r="1.85"/>
<circle cx="426.9" cy="298.9" r="1.85"/>
<circle cx="434.9" cy="298.3" r="1.85"/>
<circle cx="440.2" cy="301.3" r="1.85"/>
<circle cx="429.1" cy="302.3" r="1.85"/>
<circle cx="428.6" cy="310.3" r="1.85"/>
<circle cx="432.4" cy="313.0" r="1.85"/>
<circle cx="428.4" cy="314.0" r="1.85"/>
<circle cx="426.5" cy="315.7" r="1.85"/>
<circle cx="438.6" cy="319.5" r="1.85"/>
<circle cx="435.9" cy="321.6" r="1.85"/>
<circle cx="439.3" cy="323.2" r="1.85"/>
<circle cx="435.8" cy="336.9" r="1.85"/>
<circle cx="440.8" cy="340.0" r="1.85"/>
<circle cx="434.9" cy="346.4" r="1.85"/>
<circle cx="428.9" cy="362.4" r="1.85"/>
<circle cx="437.9" cy="383.8" r="1.85"/>
<circle cx="440.3" cy="404.2" r="1.85"/>
<circle cx="477.1" cy="41.9" r="1.85"/>
<circle cx="474.8" cy="69.7" r="1.85"/>
<circle cx="467.9" cy="78.8" r="1.85"/>
<circle cx="473.3" cy="96.0" r="1.85"/>
<circle cx="466.1" cy="44.2" r="1.85"/>
<circle cx="472.1" cy="70.6" r="1.85"/>
<circle cx="471.3" cy="75.4" r="1.85"/>
<circle cx="473.7" cy="77.0" r="1.85"/>
<circle cx="470.7" cy="78.5" r="1.85"/>
<circle cx="477.9" cy="104.6" r="1.85"/>
<circle cx="466.0" cy="108.5" r="1.85"/>
<circle cx="470.3" cy="111.1" r="1.85"/>
<circle cx="476.2" cy="114.2" r="1.85"/>
<circle cx="471.8" cy="115.2" r="1.85"/>
<circle cx="472.9" cy="117.2" r="1.85"/>
<circle cx="468.8" cy="118.5" r="1.85"/>
<circle cx="464.4" cy="118.7" r="1.85"/>
<circle cx="466.1" cy="122.6" r="1.85"/>
<circle cx="469.2" cy="123.4" r="1.85"/>
<circle cx="468.1" cy="126.3" r="1.85"/>
<circle cx="473.8" cy="125.5" r="1.85"/>
<circle cx="474.6" cy="127.3" r="1.85"/>
<circle cx="465.4" cy="144.1" r="1.85"/>
<circle cx="472.2" cy="145.6" r="1.85"/>
<circle cx="477.3" cy="146.7" r="1.85"/>
<circle cx="472.2" cy="149.6" r="1.85"/>
<circle cx="472.2" cy="151.8" r="1.85"/>
<circle cx="468.4" cy="153.7" r="1.85"/>
<circle cx="476.8" cy="156.6" r="1.85"/>
<circle cx="472.2" cy="159.1" r="1.85"/>
<circle cx="478.7" cy="159.4" r="1.85"/>
<circle cx="466.1" cy="161.0" r="1.85"/>
<circle cx="464.2" cy="162.5" r="1.85"/>
<circle cx="475.9" cy="162.8" r="1.85"/>
<circle cx="469.5" cy="164.2" r="1.85"/>
<circle cx="464.8" cy="167.4" r="1.85"/>
<circle cx="467.5" cy="169.3" r="1.85"/>
<circle cx="465.2" cy="108.0" r="1.85"/>
<circle cx="467.0" cy="107.3" r="1.85"/>
<circle cx="469.4" cy="107.0" r="1.85"/>
<circle cx="467.7" cy="109.5" r="1.85"/>
<circle cx="476.2" cy="106.9" r="1.85"/>
<circle cx="478.9" cy="106.1" r="1.85"/>
<circle cx="466.3" cy="115.3" r="1.85"/>
<circle cx="479.1" cy="115.3" r="1.85"/>
<circle cx="470.4" cy="119.7" r="1.85"/>
<circle cx="477.1" cy="119.7" r="1.85"/>
<circle cx="469.4" cy="122.2" r="1.85"/>
<circle cx="478.9" cy="122.3" r="1.85"/>
<circle cx="475.1" cy="123.4" r="1.85"/>
<circle cx="471.7" cy="124.1" r="1.85"/>
<circle cx="477.1" cy="126.6" r="1.85"/>
<circle cx="470.4" cy="127.0" r="1.85"/>
<circle cx="468.1" cy="129.9" r="1.85"/>
<circle cx="471.3" cy="129.2" r="1.85"/>
<circle cx="472.4" cy="130.9" r="1.85"/>
<circle cx="473.4" cy="131.8" r="1.85"/>
<circle cx="465.0" cy="143.2" r="1.85"/>
<circle cx="470.5" cy="143.5" r="1.85"/>
<circle cx="476.8" cy="142.6" r="1.85"/>
<circle cx="479.1" cy="145.6" r="1.85"/>
<circle cx="471.0" cy="146.0" r="1.85"/>
<circle cx="464.6" cy="147.4" r="1.85"/>
<circle cx="466.3" cy="148.5" r="1.85"/>
<circle cx="468.4" cy="150.4" r="1.85"/>
<circle cx="473.7" cy="151.1" r="1.85"/>
<circle cx="470.1" cy="151.4" r="1.85"/>
<circle cx="477.8" cy="153.7" r="1.85"/>
<circle cx="464.3" cy="155.8" r="1.85"/>
<circle cx="467.0" cy="156.2" r="1.85"/>
<circle cx="470.4" cy="155.5" r="1.85"/>
<circle cx="473.7" cy="156.2" r="1.85"/>
<circle cx="471.7" cy="158.4" r="1.85"/>
<circle cx="467.9" cy="160.2" r="1.85"/>
<circle cx="475.8" cy="160.2" r="1.85"/>
<circle cx="469.7" cy="161.3" r="1.85"/>
<circle cx="473.7" cy="162.0" r="1.85"/>
<circle cx="471.7" cy="164.2" r="1.85"/>
<circle cx="475.1" cy="165.0" r="1.85"/>
<circle cx="470.9" cy="167.6" r="1.85"/>
<circle cx="473.1" cy="167.2" r="1.85"/>
<circle cx="475.1" cy="167.9" r="1.85"/>
<circle cx="465.4" cy="203.2" r="1.85"/>
<circle cx="475.6" cy="204.1" r="1.85"/>
<circle cx="468.1" cy="205.9" r="1.85"/>
<circle cx="472.2" cy="207.6" r="1.85"/>
<circle cx="476.1" cy="208.5" r="1.85"/>
<circle cx="466.8" cy="210.6" r="1.85"/>
<circle cx="469.5" cy="207.3" r="1.85"/>
<circle cx="464.6" cy="222.0" r="1.85"/>
<circle cx="468.8" cy="220.2" r="1.85"/>
<circle cx="472.9" cy="220.5" r="1.85"/>
<circle cx="466.1" cy="223.4" r="1.85"/>
<circle cx="468.1" cy="227.8" r="1.85"/>
<circle cx="475.3" cy="228.1" r="1.85"/>
<circle cx="469.6" cy="230.9" r="1.85"/>
<circle cx="468.8" cy="233.3" r="1.85"/>
<circle cx="474.2" cy="222.2" r="1.85"/>
<circle cx="464.2" cy="171.8" r="1.85"/>
<circle cx="468.1" cy="173.5" r="1.85"/>
<circle cx="465.2" cy="203.7" r="1.85"/>
<circle cx="468.4" cy="204.1" r="1.85"/>
<circle cx="472.4" cy="203.2" r="1.85"/>
<circle cx="465.4" cy="206.3" r="1.85"/>
<circle cx="476.4" cy="208.5" r="1.85"/>
<circle cx="477.8" cy="208.5" r="1.85"/>
<circle cx="471.7" cy="211.7" r="1.85"/>
<circle cx="469.7" cy="204.4" r="1.85"/>
<circle cx="472.6" cy="221.6" r="1.85"/>
<circle cx="477.8" cy="220.5" r="1.85"/>
<circle cx="472.4" cy="223.4" r="1.85"/>
<circle cx="465.2" cy="225.2" r="1.85"/>
<circle cx="467.7" cy="224.1" r="1.85"/>
<circle cx="464.6" cy="227.8" r="1.85"/>
<circle cx="473.7" cy="228.5" r="1.85"/>
<circle cx="465.6" cy="229.2" r="1.85"/>
<circle cx="471.0" cy="230.0" r="1.85"/>
<circle cx="477.1" cy="230.7" r="1.85"/>
<circle cx="469.7" cy="232.0" r="1.85"/>
<circle cx="473.1" cy="231.4" r="1.85"/>
<circle cx="478.7" cy="231.5" r="1.85"/>
<circle cx="467.0" cy="233.6" r="1.85"/>
<circle cx="472.8" cy="234.5" r="1.85"/>
<circle cx="476.2" cy="236.1" r="1.85"/>
<circle cx="470.2" cy="237.3" r="1.85"/>
<circle cx="476.2" cy="239.5" r="1.85"/>
<circle cx="466.0" cy="243.9" r="1.85"/>
<circle cx="469.7" cy="244.2" r="1.85"/>
<circle cx="476.9" cy="243.9" r="1.85"/>
<circle cx="471.5" cy="245.8" r="1.85"/>
<circle cx="475.6" cy="245.8" r="1.85"/>
<circle cx="479.4" cy="248.1" r="1.85"/>
<circle cx="476.2" cy="242.4" r="1.85"/>
<circle cx="465.8" cy="258.8" r="1.85"/>
<circle cx="464.8" cy="263.6" r="1.85"/>
<circle cx="478.2" cy="267.0" r="1.85"/>
<circle cx="476.2" cy="268.7" r="1.85"/>
<circle cx="468.2" cy="272.0" r="1.85"/>
<circle cx="477.6" cy="274.5" r="1.85"/>
<circle cx="474.2" cy="276.0" r="1.85"/>
<circle cx="469.5" cy="277.4" r="1.85"/>
<circle cx="468.8" cy="285.2" r="1.85"/>
<circle cx="466.8" cy="287.1" r="1.85"/>
<circle cx="471.9" cy="288.3" r="1.85"/>
<circle cx="469.7" cy="236.6" r="1.85"/>
<circle cx="472.4" cy="236.1" r="1.85"/>
<circle cx="478.0" cy="236.6" r="1.85"/>
<circle cx="473.1" cy="237.4" r="1.85"/>
<circle cx="467.7" cy="241.7" r="1.85"/>
<circle cx="470.9" cy="242.4" r="1.85"/>
<circle cx="472.2" cy="244.0" r="1.85"/>
<circle cx="477.3" cy="243.8" r="1.85"/>
<circle cx="468.1" cy="245.1" r="1.85"/>
<circle cx="473.1" cy="246.3" r="1.85"/>
<circle cx="468.5" cy="248.7" r="1.85"/>
<circle cx="474.4" cy="249.3" r="1.85"/>
<circle cx="469.0" cy="258.8" r="1.85"/>
<circle cx="474.2" cy="258.9" r="1.85"/>
<circle cx="476.9" cy="259.6" r="1.85"/>
<circle cx="469.2" cy="268.5" r="1.85"/>
<circle cx="472.9" cy="270.0" r="1.85"/>
<circle cx="466.0" cy="272.2" r="1.85"/>
<circle cx="472.1" cy="273.5" r="1.85"/>
<circle cx="477.8" cy="276.7" r="1.85"/>
<circle cx="468.5" cy="278.2" r="1.85"/>
<circle cx="468.1" cy="281.1" r="1.85"/>
<circle cx="476.1" cy="284.9" r="1.85"/>
<circle cx="467.4" cy="298.1" r="1.85"/>
<circle cx="464.4" cy="301.1" r="1.85"/>
<circle cx="471.6" cy="302.5" r="1.85"/>
<circle cx="469.2" cy="305.9" r="1.85"/>
<circle cx="469.9" cy="307.9" r="1.85"/>
<circle cx="477.3" cy="308.4" r="1.85"/>
<circle cx="466.8" cy="316.2" r="1.85"/>
<circle cx="477.2" cy="315.8" r="1.85"/>
<circle cx="476.3" cy="319.3" r="1.85"/>
<circle cx="469.0" cy="320.5" r="1.85"/>
<circle cx="465.5" cy="323.2" r="1.85"/>
<circle cx="475.6" cy="323.8" r="1.85"/>
<circle cx="479.1" cy="335.5" r="1.85"/>
<circle cx="467.9" cy="340.5" r="1.85"/>
<circle cx="466.9" cy="357.1" r="1.85"/>
<circle cx="467.5" cy="362.6" r="1.85"/>
<circle cx="466.7" cy="310.0" r="1.85"/>
<circle cx="471.3" cy="310.0" r="1.85"/>
<circle cx="477.1" cy="309.6" r="1.85"/>
<circle cx="472.4" cy="312.2" r="1.85"/>
<circle cx="474.0" cy="313.0" r="1.85"/>
<circle cx="466.0" cy="319.0" r="1.85"/>
<circle cx="470.8" cy="325.9" r="1.85"/>
<circle cx="472.7" cy="335.6" r="1.85"/>
<circle cx="479.1" cy="335.5" r="1.85"/>
<circle cx="476.0" cy="341.0" r="1.85"/>
<circle cx="472.9" cy="355.5" r="1.85"/>
<circle cx="467.9" cy="374.9" r="1.85"/>
<circle cx="476.0" cy="379.7" r="1.85"/>
<circle cx="466.7" cy="385.2" r="1.85"/>
<circle cx="468.4" cy="402.8" r="1.85"/>
<circle cx="474.6" cy="399.2" r="1.85"/>
<circle cx="468.0" cy="356.9" r="1.85"/>
<circle cx="475.9" cy="166.3" r="1.85"/>
<circle cx="470.6" cy="203.0" r="1.85"/>
<circle cx="467.6" cy="247.5" r="1.85"/>
<circle cx="468.8" cy="165.9" r="1.85"/>
<circle cx="464.6" cy="182.3" r="1.85"/>
<circle cx="468.1" cy="182.3" r="1.85"/>
<circle cx="478.0" cy="182.6" r="1.85"/>
<circle cx="477.7" cy="184.1" r="1.85"/>
<circle cx="464.0" cy="185.6" r="1.85"/>
<circle cx="466.9" cy="184.7" r="1.85"/>
<circle cx="472.1" cy="185.0" r="1.85"/>
<circle cx="470.7" cy="185.8" r="1.85"/>
<circle cx="474.5" cy="185.8" r="1.85"/>
<circle cx="464.6" cy="188.8" r="1.85"/>
<circle cx="467.2" cy="187.9" r="1.85"/>
<circle cx="470.1" cy="188.2" r="1.85"/>
<circle cx="474.8" cy="187.6" r="1.85"/>
<circle cx="477.7" cy="188.8" r="1.85"/>
<circle cx="472.4" cy="187.0" r="1.85"/>
<circle cx="465.1" cy="190.8" r="1.85"/>
<circle cx="467.8" cy="190.5" r="1.85"/>
<circle cx="470.7" cy="191.1" r="1.85"/>
<circle cx="473.6" cy="190.8" r="1.85"/>
<circle cx="476.5" cy="190.5" r="1.85"/>
<circle cx="478.6" cy="191.4" r="1.85"/>
<circle cx="466.0" cy="194.0" r="1.85"/>
<circle cx="469.5" cy="192.6" r="1.85"/>
<circle cx="472.4" cy="193.4" r="1.85"/>
<circle cx="475.1" cy="192.6" r="1.85"/>
<circle cx="478.9" cy="193.7" r="1.85"/>
<circle cx="479.7" cy="195.2" r="1.85"/>
<circle cx="466.9" cy="196.6" r="1.85"/>
<circle cx="477.1" cy="196.3" r="1.85"/>
<circle cx="479.4" cy="196.9" r="1.85"/>
<circle cx="466.0" cy="199.0" r="1.85"/>
<circle cx="471.0" cy="194.6" r="1.85"/>
<circle cx="474.1" cy="194.5" r="1.85"/>
<circle cx="472.4" cy="200.3" r="1.85"/>
<circle cx="467.8" cy="198.7" r="1.85"/>
<circle cx="469.5" cy="199.3" r="1.85"/>
<circle cx="475.4" cy="199.3" r="1.85"/>
<circle cx="477.7" cy="198.7" r="1.85"/>
<circle cx="479.1" cy="199.6" r="1.85"/>
<circle cx="474.8" cy="200.7" r="1.85"/>
<circle cx="468.4" cy="200.7" r="1.85"/>
<circle cx="530.2" cy="104.3" r="1.85"/>
<circle cx="527.5" cy="109.3" r="1.85"/>
<circle cx="522.7" cy="152.8" r="1.85"/>
<circle cx="526.5" cy="158.9" r="1.85"/>
<circle cx="530.6" cy="171.5" r="1.85"/>
<circle cx="526.0" cy="195.2" r="1.85"/>
<circle cx="528.6" cy="197.3" r="1.85"/>
<circle cx="525.2" cy="199.5" r="1.85"/>
<circle cx="526.8" cy="203.6" r="1.85"/>
<circle cx="521.7" cy="207.3" r="1.85"/>
<circle cx="526.4" cy="232.0" r="1.85"/>
<circle cx="535.4" cy="231.1" r="1.85"/>
<circle cx="526.4" cy="244.2" r="1.85"/>
<circle cx="531.2" cy="249.6" r="1.85"/>
<circle cx="535.0" cy="267.0" r="1.85"/>
<circle cx="526.0" cy="268.5" r="1.85"/>
<circle cx="531.2" cy="271.1" r="1.85"/>
<circle cx="522.7" cy="272.3" r="1.85"/>
<circle cx="525.2" cy="278.1" r="1.85"/>
<circle cx="523.5" cy="287.1" r="1.85"/>
<circle cx="524.0" cy="298.1" r="1.85"/>
<circle cx="529.6" cy="298.6" r="1.85"/>
<circle cx="523.5" cy="302.5" r="1.85"/>
<circle cx="528.3" cy="302.5" r="1.85"/>
<circle cx="534.0" cy="308.4" r="1.85"/>
<circle cx="533.7" cy="323.2" r="1.85"/>
<circle cx="530.6" cy="336.8" r="1.85"/>
<circle cx="524.6" cy="340.5" r="1.85"/>
<circle cx="529.6" cy="346.6" r="1.85"/>
<circle cx="523.6" cy="357.1" r="1.85"/>
<circle cx="524.6" cy="374.9" r="1.85"/>
<circle cx="523.4" cy="385.2" r="1.85"/>
<circle cx="525.1" cy="402.8" r="1.85"/>
<circle cx="571.7" cy="41.9" r="1.85"/>
<circle cx="569.4" cy="69.7" r="1.85"/>
<circle cx="562.5" cy="78.8" r="1.85"/>
<circle cx="567.9" cy="96.0" r="1.85"/>
<circle cx="560.6" cy="44.2" r="1.85"/>
<circle cx="562.0" cy="66.7" r="1.85"/>
<circle cx="566.7" cy="70.6" r="1.85"/>
<circle cx="565.9" cy="75.4" r="1.85"/>
<circle cx="568.3" cy="77.0" r="1.85"/>
<circle cx="565.3" cy="78.5" r="1.85"/>
<circle cx="561.6" cy="86.8" r="1.85"/>
<circle cx="572.5" cy="104.6" r="1.85"/>
<circle cx="560.6" cy="108.5" r="1.85"/>
<circle cx="564.9" cy="111.1" r="1.85"/>
<circle cx="569.6" cy="111.4" r="1.85"/>
<circle cx="566.3" cy="113.4" r="1.85"/>
<circle cx="570.8" cy="114.2" r="1.85"/>
<circle cx="566.4" cy="115.2" r="1.85"/>
<circle cx="567.5" cy="117.2" r="1.85"/>
<circle cx="563.4" cy="118.5" r="1.85"/>
<circle cx="559.0" cy="118.7" r="1.85"/>
<circle cx="572.2" cy="121.3" r="1.85"/>
<circle cx="560.7" cy="122.6" r="1.85"/>
<circle cx="563.8" cy="123.4" r="1.85"/>
<circle cx="562.7" cy="126.3" r="1.85"/>
<circle cx="568.4" cy="125.5" r="1.85"/>
<circle cx="569.2" cy="127.3" r="1.85"/>
<circle cx="560.0" cy="144.1" r="1.85"/>
<circle cx="566.8" cy="145.6" r="1.85"/>
<circle cx="571.9" cy="146.7" r="1.85"/>
<circle cx="566.8" cy="149.6" r="1.85"/>
<circle cx="566.8" cy="151.8" r="1.85"/>
<circle cx="563.0" cy="153.7" r="1.85"/>
<circle cx="571.4" cy="156.6" r="1.85"/>
<circle cx="569.2" cy="156.9" r="1.85"/>
<circle cx="566.8" cy="159.1" r="1.85"/>
<circle cx="573.3" cy="159.4" r="1.85"/>
<circle cx="560.7" cy="161.0" r="1.85"/>
<circle cx="558.9" cy="162.5" r="1.85"/>
<circle cx="570.5" cy="162.8" r="1.85"/>
<circle cx="564.1" cy="164.2" r="1.85"/>
<circle cx="561.1" cy="165.0" r="1.85"/>
<circle cx="559.4" cy="167.4" r="1.85"/>
<circle cx="564.2" cy="168.3" r="1.85"/>
<circle cx="573.7" cy="167.2" r="1.85"/>
<circle cx="562.1" cy="169.3" r="1.85"/>
<circle cx="559.8" cy="108.0" r="1.85"/>
<circle cx="561.6" cy="107.3" r="1.85"/>
<circle cx="564.0" cy="107.0" r="1.85"/>
<circle cx="562.3" cy="109.5" r="1.85"/>
<circle cx="570.8" cy="106.9" r="1.85"/>
<circle cx="573.5" cy="106.1" r="1.85"/>
<circle cx="560.9" cy="115.3" r="1.85"/>
<circle cx="573.7" cy="115.3" r="1.85"/>
<circle cx="561.9" cy="118.2" r="1.85"/>
<circle cx="565.0" cy="119.7" r="1.85"/>
<circle cx="571.7" cy="119.7" r="1.85"/>
<circle cx="564.0" cy="122.2" r="1.85"/>
<circle cx="573.5" cy="122.3" r="1.85"/>
<circle cx="569.7" cy="123.4" r="1.85"/>
<circle cx="566.3" cy="124.1" r="1.85"/>
<circle cx="571.7" cy="126.6" r="1.85"/>
<circle cx="565.0" cy="127.0" r="1.85"/>
<circle cx="562.7" cy="129.9" r="1.85"/>
<circle cx="565.9" cy="129.2" r="1.85"/>
<circle cx="567.0" cy="130.9" r="1.85"/>
<circle cx="568.0" cy="131.8" r="1.85"/>
<circle cx="559.6" cy="143.2" r="1.85"/>
<circle cx="565.1" cy="143.5" r="1.85"/>
<circle cx="568.2" cy="143.8" r="1.85"/>
<circle cx="571.4" cy="142.6" r="1.85"/>
<circle cx="573.7" cy="145.6" r="1.85"/>
<circle cx="565.6" cy="146.0" r="1.85"/>
<circle cx="559.2" cy="147.4" r="1.85"/>
<circle cx="560.9" cy="148.5" r="1.85"/>
<circle cx="563.0" cy="150.4" r="1.85"/>
<circle cx="568.3" cy="151.1" r="1.85"/>
<circle cx="564.7" cy="151.4" r="1.85"/>
<circle cx="572.4" cy="153.7" r="1.85"/>
<circle cx="573.9" cy="155.3" r="1.85"/>
<circle cx="558.9" cy="155.8" r="1.85"/>
<circle cx="561.6" cy="156.2" r="1.85"/>
<circle cx="565.0" cy="155.5" r="1.85"/>
<circle cx="568.3" cy="156.2" r="1.85"/>
<circle cx="566.3" cy="158.4" r="1.85"/>
<circle cx="572.5" cy="159.6" r="1.85"/>
<circle cx="562.5" cy="160.2" r="1.85"/>
<circle cx="570.4" cy="160.2" r="1.85"/>
<circle cx="564.3" cy="161.3" r="1.85"/>
<circle cx="568.3" cy="162.0" r="1.85"/>
<circle cx="570.8" cy="162.8" r="1.85"/>
<circle cx="566.3" cy="164.2" r="1.85"/>
<circle cx="569.7" cy="165.0" r="1.85"/>
<circle cx="565.5" cy="167.6" r="1.85"/>
<circle cx="567.7" cy="167.2" r="1.85"/>
<circle cx="559.1" cy="168.3" r="1.85"/>
<circle cx="569.7" cy="167.9" r="1.85"/>
<circle cx="560.9" cy="172.0" r="1.85"/>
<circle cx="565.2" cy="173.3" r="1.85"/>
<circle cx="570.7" cy="208.5" r="1.85"/>
<circle cx="561.4" cy="210.6" r="1.85"/>
<circle cx="559.2" cy="222.0" r="1.85"/>
<circle cx="563.4" cy="220.2" r="1.85"/>
<circle cx="567.5" cy="220.5" r="1.85"/>
<circle cx="570.8" cy="220.4" r="1.85"/>
<circle cx="565.0" cy="223.3" r="1.85"/>
<circle cx="560.7" cy="223.4" r="1.85"/>
<circle cx="565.8" cy="225.0" r="1.85"/>
<circle cx="558.8" cy="226.2" r="1.85"/>
<circle cx="562.7" cy="227.8" r="1.85"/>
<circle cx="569.9" cy="228.1" r="1.85"/>
<circle cx="564.2" cy="230.9" r="1.85"/>
<circle cx="563.4" cy="233.3" r="1.85"/>
<circle cx="572.9" cy="234.1" r="1.85"/>
<circle cx="568.8" cy="222.2" r="1.85"/>
<circle cx="558.8" cy="171.8" r="1.85"/>
<circle cx="562.6" cy="173.5" r="1.85"/>
<circle cx="571.0" cy="208.5" r="1.85"/>
<circle cx="572.4" cy="208.5" r="1.85"/>
<circle cx="566.3" cy="211.7" r="1.85"/>
<circle cx="561.6" cy="220.3" r="1.85"/>
<circle cx="567.2" cy="221.6" r="1.85"/>
<circle cx="572.4" cy="220.5" r="1.85"/>
<circle cx="567.0" cy="223.4" r="1.85"/>
<circle cx="559.8" cy="225.2" r="1.85"/>
<circle cx="562.3" cy="224.1" r="1.85"/>
<circle cx="571.2" cy="226.4" r="1.85"/>
<circle cx="559.2" cy="227.8" r="1.85"/>
<circle cx="568.3" cy="228.5" r="1.85"/>
<circle cx="560.2" cy="229.2" r="1.85"/>
<circle cx="565.6" cy="230.0" r="1.85"/>
<circle cx="571.7" cy="230.7" r="1.85"/>
<circle cx="567.7" cy="231.4" r="1.85"/>
<circle cx="561.6" cy="233.6" r="1.85"/>
<circle cx="567.4" cy="234.5" r="1.85"/>
<circle cx="563.3" cy="235.9" r="1.85"/>
<circle cx="570.8" cy="236.1" r="1.85"/>
<circle cx="564.8" cy="237.3" r="1.85"/>
<circle cx="570.8" cy="239.5" r="1.85"/>
<circle cx="561.2" cy="240.5" r="1.85"/>
<circle cx="564.6" cy="241.2" r="1.85"/>
<circle cx="563.8" cy="243.4" r="1.85"/>
<circle cx="560.6" cy="243.9" r="1.85"/>
<circle cx="571.5" cy="243.9" r="1.85"/>
<circle cx="573.1" cy="243.9" r="1.85"/>
<circle cx="561.7" cy="246.1" r="1.85"/>
<circle cx="566.1" cy="245.8" r="1.85"/>
<circle cx="570.2" cy="245.8" r="1.85"/>
<circle cx="574.0" cy="248.1" r="1.85"/>
<circle cx="571.4" cy="247.8" r="1.85"/>
<circle cx="570.8" cy="242.4" r="1.85"/>
<circle cx="560.4" cy="258.8" r="1.85"/>
<circle cx="565.8" cy="259.6" r="1.85"/>
<circle cx="559.4" cy="263.6" r="1.85"/>
<circle cx="567.5" cy="265.7" r="1.85"/>
<circle cx="570.8" cy="268.7" r="1.85"/>
<circle cx="562.8" cy="272.0" r="1.85"/>
<circle cx="568.6" cy="273.8" r="1.85"/>
<circle cx="572.2" cy="274.5" r="1.85"/>
<circle cx="568.8" cy="276.0" r="1.85"/>
<circle cx="573.8" cy="276.7" r="1.85"/>
<circle cx="560.1" cy="277.9" r="1.85"/>
<circle cx="564.1" cy="277.4" r="1.85"/>
<circle cx="559.4" cy="285.2" r="1.85"/>
<circle cx="563.4" cy="285.2" r="1.85"/>
<circle cx="566.5" cy="288.3" r="1.85"/>
<circle cx="559.5" cy="299.2" r="1.85"/>
<circle cx="564.3" cy="236.6" r="1.85"/>
<circle cx="567.0" cy="236.1" r="1.85"/>
<circle cx="572.6" cy="236.6" r="1.85"/>
<circle cx="568.5" cy="238.3" r="1.85"/>
<circle cx="567.7" cy="237.4" r="1.85"/>
<circle cx="572.5" cy="238.5" r="1.85"/>
<circle cx="562.3" cy="241.7" r="1.85"/>
<circle cx="565.5" cy="242.4" r="1.85"/>
<circle cx="566.9" cy="244.0" r="1.85"/>
<circle cx="571.9" cy="243.8" r="1.85"/>
<circle cx="560.6" cy="245.3" r="1.85"/>
<circle cx="562.7" cy="245.1" r="1.85"/>
<circle cx="567.7" cy="246.3" r="1.85"/>
<circle cx="563.1" cy="248.7" r="1.85"/>
<circle cx="569.0" cy="249.3" r="1.85"/>
<circle cx="563.6" cy="258.8" r="1.85"/>
<circle cx="568.9" cy="258.9" r="1.85"/>
<circle cx="571.5" cy="259.6" r="1.85"/>
<circle cx="567.5" cy="270.0" r="1.85"/>
<circle cx="566.7" cy="273.5" r="1.85"/>
<circle cx="572.4" cy="276.7" r="1.85"/>
<circle cx="562.7" cy="281.1" r="1.85"/>
<circle cx="561.7" cy="284.6" r="1.85"/>
<circle cx="570.7" cy="284.9" r="1.85"/>
<circle cx="559.0" cy="301.1" r="1.85"/>
<circle cx="563.8" cy="305.9" r="1.85"/>
<circle cx="564.5" cy="307.9" r="1.85"/>
<circle cx="561.2" cy="310.5" r="1.85"/>
<circle cx="561.0" cy="314.2" r="1.85"/>
<circle cx="559.0" cy="315.7" r="1.85"/>
<circle cx="561.4" cy="316.2" r="1.85"/>
<circle cx="571.9" cy="315.8" r="1.85"/>
<circle cx="570.9" cy="319.3" r="1.85"/>
<circle cx="570.6" cy="320.1" r="1.85"/>
<circle cx="563.6" cy="320.5" r="1.85"/>
<circle cx="560.1" cy="323.2" r="1.85"/>
<circle cx="570.2" cy="323.8" r="1.85"/>
<circle cx="573.7" cy="335.5" r="1.85"/>
<circle cx="562.1" cy="362.6" r="1.85"/>
<circle cx="572.7" cy="301.3" r="1.85"/>
<circle cx="561.3" cy="310.0" r="1.85"/>
<circle cx="565.9" cy="310.0" r="1.85"/>
<circle cx="571.7" cy="309.6" r="1.85"/>
<circle cx="567.0" cy="312.2" r="1.85"/>
<circle cx="565.0" cy="313.0" r="1.85"/>
<circle cx="568.6" cy="313.0" r="1.85"/>
<circle cx="560.6" cy="319.0" r="1.85"/>
<circle cx="568.6" cy="321.7" r="1.85"/>
<circle cx="565.4" cy="325.9" r="1.85"/>
<circle cx="567.3" cy="335.6" r="1.85"/>
<circle cx="573.7" cy="335.5" r="1.85"/>
<circle cx="573.3" cy="340.0" r="1.85"/>
<circle cx="570.6" cy="341.0" r="1.85"/>
<circle cx="567.5" cy="355.5" r="1.85"/>
<circle cx="561.6" cy="362.6" r="1.85"/>
<circle cx="570.6" cy="379.7" r="1.85"/>
<circle cx="572.8" cy="404.2" r="1.85"/>
<circle cx="569.2" cy="399.2" r="1.85"/>
<circle cx="562.6" cy="356.9" r="1.85"/>
<circle cx="570.5" cy="166.3" r="1.85"/>
<circle cx="562.2" cy="247.5" r="1.85"/>
<circle cx="567.7" cy="164.7" r="1.85"/>
<circle cx="565.5" cy="221.7" r="1.85"/>
<circle cx="569.6" cy="238.5" r="1.85"/>
<circle cx="563.4" cy="165.9" r="1.85"/>
<circle cx="559.1" cy="182.3" r="1.85"/>
<circle cx="562.6" cy="182.3" r="1.85"/>
<circle cx="558.5" cy="185.6" r="1.85"/>
<circle cx="561.8" cy="184.7" r="1.85"/>
<circle cx="559.1" cy="188.8" r="1.85"/>
<circle cx="562.1" cy="188.2" r="1.85"/>
<circle cx="559.7" cy="190.8" r="1.85"/>
<circle cx="560.3" cy="193.7" r="1.85"/>
<circle cx="560.9" cy="196.6" r="1.85"/>
<circle cx="560.6" cy="199.3" r="1.85"/>
<circle cx="566.1" cy="185.0" r="1.85"/>
<circle cx="569.4" cy="184.7" r="1.85"/>
<circle cx="565.3" cy="187.6" r="1.85"/>
<circle cx="568.5" cy="187.3" r="1.85"/>
<circle cx="571.1" cy="187.6" r="1.85"/>
<circle cx="566.4" cy="190.2" r="1.85"/>
<circle cx="569.4" cy="189.9" r="1.85"/>
<circle cx="571.7" cy="190.2" r="1.85"/>
<circle cx="562.9" cy="191.1" r="1.85"/>
<circle cx="564.7" cy="193.1" r="1.85"/>
<circle cx="567.3" cy="194.0" r="1.85"/>
<circle cx="569.4" cy="193.1" r="1.85"/>
<circle cx="572.9" cy="182.3" r="1.85"/>
<circle cx="572.6" cy="184.1" r="1.85"/>
<circle cx="573.1" cy="193.4" r="1.85"/>
<circle cx="573.7" cy="195.2" r="1.85"/>
<circle cx="573.5" cy="197.5" r="1.85"/>
<circle cx="574.0" cy="199.3" r="1.85"/>
<circle cx="563.2" cy="198.1" r="1.85"/>
<circle cx="566.4" cy="199.0" r="1.85"/>
<circle cx="569.6" cy="198.6" r="1.85"/>
<circle cx="571.7" cy="197.5" r="1.85"/>
<circle cx="565.3" cy="200.4" r="1.85"/>
<circle cx="568.2" cy="200.4" r="1.85"/>
<circle cx="559.1" cy="203.1" r="1.85"/>
<circle cx="561.5" cy="202.5" r="1.85"/>
<circle cx="563.8" cy="202.2" r="1.85"/>
<circle cx="566.1" cy="202.5" r="1.85"/>
<circle cx="568.5" cy="202.2" r="1.85"/>
<circle cx="559.4" cy="205.4" r="1.85"/>
<circle cx="561.8" cy="205.1" r="1.85"/>
<circle cx="564.1" cy="205.1" r="1.85"/>
<circle cx="566.4" cy="205.1" r="1.85"/>
<circle cx="568.8" cy="205.7" r="1.85"/>
<circle cx="560.6" cy="207.4" r="1.85"/>
<circle cx="562.9" cy="207.4" r="1.85"/>
<circle cx="565.3" cy="207.4" r="1.85"/>
<circle cx="567.6" cy="207.4" r="1.85"/>
<circle cx="571.7" cy="200.4" r="1.85"/>
<circle cx="624.7" cy="104.3" r="1.85"/>
<circle cx="629.4" cy="104.6" r="1.85"/>
<circle cx="620.3" cy="165.9" r="1.85"/>
<circle cx="615.7" cy="171.8" r="1.85"/>
<circle cx="616.4" cy="182.4" r="1.85"/>
<circle cx="616.0" cy="185.7" r="1.85"/>
<circle cx="618.6" cy="186.1" r="1.85"/>
<circle cx="616.7" cy="189.3" r="1.85"/>
<circle cx="629.2" cy="188.7" r="1.85"/>
<circle cx="622.2" cy="202.2" r="1.85"/>
<circle cx="623.2" cy="201.4" r="1.85"/>
<circle cx="616.7" cy="207.4" r="1.85"/>
<circle cx="627.8" cy="208.3" r="1.85"/>
<circle cx="616.1" cy="222.0" r="1.85"/>
<circle cx="622.2" cy="221.6" r="1.85"/>
<circle cx="624.1" cy="221.6" r="1.85"/>
<circle cx="618.1" cy="240.4" r="1.85"/>
<circle cx="617.4" cy="243.8" r="1.85"/>
<circle cx="619.6" cy="245.1" r="1.85"/>
<circle cx="630.8" cy="248.0" r="1.85"/>
<circle cx="629.7" cy="267.0" r="1.85"/>
<circle cx="630.7" cy="276.6" r="1.85"/>
<circle cx="617.0" cy="323.2" r="1.85"/>
<circle cx="620.5" cy="320.5" r="1.85"/>
<circle cx="627.0" cy="320.8" r="1.85"/>
<circle cx="627.8" cy="319.3" r="1.85"/>
<circle cx="625.3" cy="336.8" r="1.85"/>
<circle cx="624.3" cy="346.6" r="1.85"/>
<circle cx="624.4" cy="355.5" r="1.85"/>
<circle cx="657.0" cy="78.8" r="1.85"/>
<circle cx="662.4" cy="96.0" r="1.85"/>
<circle cx="655.2" cy="44.2" r="1.85"/>
<circle cx="656.6" cy="66.7" r="1.85"/>
<circle cx="661.3" cy="70.6" r="1.85"/>
<circle cx="660.5" cy="75.4" r="1.85"/>
<circle cx="662.9" cy="77.0" r="1.85"/>
<circle cx="659.8" cy="78.5" r="1.85"/>
<circle cx="656.1" cy="86.8" r="1.85"/>
<circle cx="655.1" cy="108.5" r="1.85"/>
<circle cx="659.5" cy="111.1" r="1.85"/>
<circle cx="664.2" cy="111.4" r="1.85"/>
<circle cx="660.8" cy="113.4" r="1.85"/>
<circle cx="665.4" cy="114.2" r="1.85"/>
<circle cx="660.9" cy="115.2" r="1.85"/>
<circle cx="662.0" cy="117.2" r="1.85"/>
<circle cx="658.0" cy="118.5" r="1.85"/>
<circle cx="653.5" cy="118.7" r="1.85"/>
<circle cx="666.8" cy="121.3" r="1.85"/>
<circle cx="655.3" cy="122.6" r="1.85"/>
<circle cx="658.4" cy="123.4" r="1.85"/>
<circle cx="657.3" cy="126.3" r="1.85"/>
<circle cx="663.0" cy="125.5" r="1.85"/>
<circle cx="663.8" cy="127.3" r="1.85"/>
<circle cx="654.6" cy="144.1" r="1.85"/>
<circle cx="661.3" cy="145.6" r="1.85"/>
<circle cx="666.5" cy="146.7" r="1.85"/>
<circle cx="661.3" cy="149.6" r="1.85"/>
<circle cx="661.3" cy="151.8" r="1.85"/>
<circle cx="657.6" cy="153.7" r="1.85"/>
<circle cx="666.0" cy="156.6" r="1.85"/>
<circle cx="663.7" cy="156.9" r="1.85"/>
<circle cx="661.3" cy="159.1" r="1.85"/>
<circle cx="667.8" cy="159.4" r="1.85"/>
<circle cx="655.3" cy="161.0" r="1.85"/>
<circle cx="653.4" cy="162.5" r="1.85"/>
<circle cx="665.1" cy="162.8" r="1.85"/>
<circle cx="658.6" cy="164.2" r="1.85"/>
<circle cx="655.7" cy="165.0" r="1.85"/>
<circle cx="653.9" cy="167.4" r="1.85"/>
<circle cx="658.8" cy="168.3" r="1.85"/>
<circle cx="668.2" cy="167.2" r="1.85"/>
<circle cx="656.6" cy="169.3" r="1.85"/>
<circle cx="654.4" cy="108.0" r="1.85"/>
<circle cx="656.1" cy="107.3" r="1.85"/>
<circle cx="658.6" cy="107.0" r="1.85"/>
<circle cx="660.0" cy="109.2" r="1.85"/>
<circle cx="656.8" cy="109.5" r="1.85"/>
<circle cx="665.4" cy="106.9" r="1.85"/>
<circle cx="668.0" cy="106.1" r="1.85"/>
<circle cx="655.5" cy="115.3" r="1.85"/>
<circle cx="668.3" cy="115.3" r="1.85"/>
<circle cx="656.5" cy="118.2" r="1.85"/>
<circle cx="659.5" cy="119.7" r="1.85"/>
<circle cx="658.6" cy="122.2" r="1.85"/>
<circle cx="668.0" cy="122.3" r="1.85"/>
<circle cx="664.2" cy="123.4" r="1.85"/>
<circle cx="660.9" cy="124.1" r="1.85"/>
<circle cx="666.2" cy="126.6" r="1.85"/>
<circle cx="659.5" cy="127.0" r="1.85"/>
<circle cx="657.2" cy="129.9" r="1.85"/>
<circle cx="660.5" cy="129.2" r="1.85"/>
<circle cx="661.5" cy="130.9" r="1.85"/>
<circle cx="662.5" cy="131.8" r="1.85"/>
<circle cx="654.1" cy="143.2" r="1.85"/>
<circle cx="659.7" cy="143.5" r="1.85"/>
<circle cx="662.7" cy="143.8" r="1.85"/>
<circle cx="666.0" cy="142.6" r="1.85"/>
<circle cx="668.3" cy="145.6" r="1.85"/>
<circle cx="660.2" cy="146.0" r="1.85"/>
<circle cx="653.7" cy="147.4" r="1.85"/>
<circle cx="655.5" cy="148.5" r="1.85"/>
<circle cx="657.5" cy="150.4" r="1.85"/>
<circle cx="662.9" cy="151.1" r="1.85"/>
<circle cx="659.2" cy="151.4" r="1.85"/>
<circle cx="667.0" cy="153.7" r="1.85"/>
<circle cx="655.1" cy="152.7" r="1.85"/>
<circle cx="668.4" cy="155.3" r="1.85"/>
<circle cx="653.5" cy="155.8" r="1.85"/>
<circle cx="656.1" cy="156.2" r="1.85"/>
<circle cx="659.5" cy="155.5" r="1.85"/>
<circle cx="662.9" cy="156.2" r="1.85"/>
<circle cx="660.9" cy="158.4" r="1.85"/>
<circle cx="667.1" cy="159.6" r="1.85"/>
<circle cx="657.0" cy="160.2" r="1.85"/>
<circle cx="664.9" cy="160.2" r="1.85"/>
<circle cx="658.8" cy="161.3" r="1.85"/>
<circle cx="662.9" cy="162.0" r="1.85"/>
<circle cx="665.3" cy="162.8" r="1.85"/>
<circle cx="660.9" cy="164.2" r="1.85"/>
<circle cx="664.2" cy="165.0" r="1.85"/>
<circle cx="660.1" cy="167.6" r="1.85"/>
<circle cx="662.2" cy="167.2" r="1.85"/>
<circle cx="653.7" cy="168.3" r="1.85"/>
<circle cx="664.2" cy="167.9" r="1.85"/>
<circle cx="655.4" cy="172.0" r="1.85"/>
<circle cx="659.8" cy="173.3" r="1.85"/>
<circle cx="663.6" cy="171.6" r="1.85"/>
<circle cx="654.3" cy="182.8" r="1.85"/>
<circle cx="657.6" cy="182.5" r="1.85"/>
<circle cx="667.0" cy="184.0" r="1.85"/>
<circle cx="663.0" cy="185.4" r="1.85"/>
<circle cx="664.2" cy="188.4" r="1.85"/>
<circle cx="655.3" cy="189.1" r="1.85"/>
<circle cx="661.6" cy="187.7" r="1.85"/>
<circle cx="666.8" cy="191.3" r="1.85"/>
<circle cx="654.6" cy="191.6" r="1.85"/>
<circle cx="660.4" cy="192.4" r="1.85"/>
<circle cx="665.4" cy="192.7" r="1.85"/>
<circle cx="668.0" cy="194.2" r="1.85"/>
<circle cx="655.3" cy="194.2" r="1.85"/>
<circle cx="663.0" cy="195.9" r="1.85"/>
<circle cx="667.6" cy="198.7" r="1.85"/>
<circle cx="657.5" cy="199.3" r="1.85"/>
<circle cx="661.3" cy="199.8" r="1.85"/>
<circle cx="663.4" cy="200.0" r="1.85"/>
<circle cx="654.6" cy="203.2" r="1.85"/>
<circle cx="659.6" cy="202.3" r="1.85"/>
<circle cx="662.8" cy="203.7" r="1.85"/>
<circle cx="664.7" cy="204.1" r="1.85"/>
<circle cx="657.3" cy="205.9" r="1.85"/>
<circle cx="661.3" cy="207.6" r="1.85"/>
<circle cx="655.9" cy="210.6" r="1.85"/>
<circle cx="658.6" cy="207.3" r="1.85"/>
<circle cx="658.0" cy="220.2" r="1.85"/>
<circle cx="662.0" cy="220.5" r="1.85"/>
<circle cx="665.3" cy="220.4" r="1.85"/>
<circle cx="659.6" cy="223.3" r="1.85"/>
<circle cx="655.3" cy="223.4" r="1.85"/>
<circle cx="660.3" cy="225.0" r="1.85"/>
<circle cx="653.4" cy="226.2" r="1.85"/>
<circle cx="657.3" cy="227.8" r="1.85"/>
<circle cx="664.5" cy="228.1" r="1.85"/>
<circle cx="658.8" cy="230.9" r="1.85"/>
<circle cx="658.0" cy="233.3" r="1.85"/>
<circle cx="667.5" cy="234.1" r="1.85"/>
<circle cx="663.4" cy="222.2" r="1.85"/>
<circle cx="657.2" cy="173.5" r="1.85"/>
<circle cx="667.6" cy="182.8" r="1.85"/>
<circle cx="661.5" cy="184.7" r="1.85"/>
<circle cx="664.5" cy="185.6" r="1.85"/>
<circle cx="660.7" cy="187.9" r="1.85"/>
<circle cx="662.9" cy="189.1" r="1.85"/>
<circle cx="656.2" cy="190.6" r="1.85"/>
<circle cx="664.6" cy="190.1" r="1.85"/>
<circle cx="661.7" cy="191.0" r="1.85"/>
<circle cx="659.5" cy="194.2" r="1.85"/>
<circle cx="663.2" cy="193.0" r="1.85"/>
<circle cx="668.3" cy="195.7" r="1.85"/>
<circle cx="656.8" cy="196.4" r="1.85"/>
<circle cx="661.0" cy="197.3" r="1.85"/>
<circle cx="666.3" cy="197.8" r="1.85"/>
<circle cx="658.2" cy="198.9" r="1.85"/>
<circle cx="668.3" cy="199.3" r="1.85"/>
<circle cx="662.1" cy="200.5" r="1.85"/>
<circle cx="654.4" cy="203.7" r="1.85"/>
<circle cx="657.5" cy="204.1" r="1.85"/>
<circle cx="661.5" cy="203.2" r="1.85"/>
<circle cx="654.5" cy="206.3" r="1.85"/>
<circle cx="659.5" cy="207.0" r="1.85"/>
<circle cx="664.5" cy="201.7" r="1.85"/>
<circle cx="665.6" cy="208.5" r="1.85"/>
<circle cx="666.9" cy="208.5" r="1.85"/>
<circle cx="660.9" cy="211.7" r="1.85"/>
<circle cx="658.8" cy="204.4" r="1.85"/>
<circle cx="656.2" cy="220.3" r="1.85"/>
<circle cx="666.9" cy="220.5" r="1.85"/>
<circle cx="661.5" cy="223.4" r="1.85"/>
<circle cx="654.4" cy="225.2" r="1.85"/>
<circle cx="656.8" cy="224.1" r="1.85"/>
<circle cx="665.8" cy="226.4" r="1.85"/>
<circle cx="653.7" cy="227.8" r="1.85"/>
<circle cx="662.9" cy="228.5" r="1.85"/>
<circle cx="654.8" cy="229.2" r="1.85"/>
<circle cx="660.2" cy="230.0" r="1.85"/>
<circle cx="666.3" cy="230.7" r="1.85"/>
<circle cx="658.8" cy="232.0" r="1.85"/>
<circle cx="662.3" cy="231.4" r="1.85"/>
<circle cx="667.8" cy="231.5" r="1.85"/>
<circle cx="656.1" cy="233.6" r="1.85"/>
<circle cx="662.0" cy="234.5" r="1.85"/>
<circle cx="657.8" cy="235.9" r="1.85"/>
<circle cx="665.4" cy="236.1" r="1.85"/>
<circle cx="659.3" cy="237.3" r="1.85"/>
<circle cx="665.4" cy="239.5" r="1.85"/>
<circle cx="659.1" cy="241.2" r="1.85"/>
<circle cx="658.3" cy="243.4" r="1.85"/>
<circle cx="658.8" cy="244.2" r="1.85"/>
<circle cx="666.0" cy="243.9" r="1.85"/>
<circle cx="667.6" cy="243.9" r="1.85"/>
<circle cx="656.2" cy="246.1" r="1.85"/>
<circle cx="660.7" cy="245.8" r="1.85"/>
<circle cx="664.7" cy="245.8" r="1.85"/>
<circle cx="665.9" cy="247.8" r="1.85"/>
<circle cx="663.7" cy="249.7" r="1.85"/>
<circle cx="665.4" cy="242.4" r="1.85"/>
<circle cx="654.9" cy="258.8" r="1.85"/>
<circle cx="660.4" cy="259.6" r="1.85"/>
<circle cx="653.9" cy="263.6" r="1.85"/>
<circle cx="662.0" cy="265.7" r="1.85"/>
<circle cx="665.4" cy="268.7" r="1.85"/>
<circle cx="663.5" cy="271.0" r="1.85"/>
<circle cx="657.3" cy="272.0" r="1.85"/>
<circle cx="663.1" cy="273.8" r="1.85"/>
<circle cx="666.7" cy="274.5" r="1.85"/>
<circle cx="663.4" cy="276.0" r="1.85"/>
<circle cx="654.6" cy="277.9" r="1.85"/>
<circle cx="658.6" cy="277.4" r="1.85"/>
<circle cx="654.0" cy="285.2" r="1.85"/>
<circle cx="658.0" cy="285.2" r="1.85"/>
<circle cx="655.9" cy="287.1" r="1.85"/>
<circle cx="661.0" cy="288.3" r="1.85"/>
<circle cx="654.0" cy="299.2" r="1.85"/>
<circle cx="658.8" cy="236.6" r="1.85"/>
<circle cx="661.5" cy="236.1" r="1.85"/>
<circle cx="667.1" cy="236.6" r="1.85"/>
<circle cx="663.0" cy="238.3" r="1.85"/>
<circle cx="662.3" cy="237.4" r="1.85"/>
<circle cx="667.1" cy="238.5" r="1.85"/>
<circle cx="656.8" cy="241.7" r="1.85"/>
<circle cx="660.1" cy="242.4" r="1.85"/>
<circle cx="661.4" cy="244.0" r="1.85"/>
<circle cx="666.4" cy="243.8" r="1.85"/>
<circle cx="655.1" cy="245.3" r="1.85"/>
<circle cx="662.2" cy="246.3" r="1.85"/>
<circle cx="657.6" cy="248.7" r="1.85"/>
<circle cx="663.6" cy="249.3" r="1.85"/>
<circle cx="658.2" cy="258.8" r="1.85"/>
<circle cx="663.4" cy="258.9" r="1.85"/>
<circle cx="666.1" cy="259.6" r="1.85"/>
<circle cx="658.4" cy="268.5" r="1.85"/>
<circle cx="662.1" cy="270.0" r="1.85"/>
<circle cx="655.2" cy="272.2" r="1.85"/>
<circle cx="661.3" cy="273.5" r="1.85"/>
<circle cx="666.9" cy="276.7" r="1.85"/>
<circle cx="657.6" cy="278.2" r="1.85"/>
<circle cx="656.2" cy="284.6" r="1.85"/>
<circle cx="665.3" cy="284.9" r="1.85"/>
<circle cx="656.5" cy="298.1" r="1.85"/>
<circle cx="662.0" cy="298.4" r="1.85"/>
<circle cx="653.5" cy="301.1" r="1.85"/>
<circle cx="660.7" cy="302.5" r="1.85"/>
<circle cx="658.4" cy="305.9" r="1.85"/>
<circle cx="659.0" cy="307.9" r="1.85"/>
<circle cx="666.4" cy="308.4" r="1.85"/>
<circle cx="655.8" cy="310.5" r="1.85"/>
<circle cx="655.5" cy="314.2" r="1.85"/>
<circle cx="653.5" cy="315.7" r="1.85"/>
<circle cx="655.9" cy="316.2" r="1.85"/>
<circle cx="666.4" cy="315.8" r="1.85"/>
<circle cx="664.7" cy="323.8" r="1.85"/>
<circle cx="668.2" cy="335.5" r="1.85"/>
<circle cx="657.1" cy="340.5" r="1.85"/>
<circle cx="656.0" cy="357.1" r="1.85"/>
<circle cx="656.6" cy="362.6" r="1.85"/>
<circle cx="667.2" cy="301.3" r="1.85"/>
<circle cx="656.1" cy="302.5" r="1.85"/>
<circle cx="655.9" cy="310.0" r="1.85"/>
<circle cx="660.5" cy="310.0" r="1.85"/>
<circle cx="666.3" cy="309.6" r="1.85"/>
<circle cx="661.5" cy="312.2" r="1.85"/>
<circle cx="659.5" cy="313.0" r="1.85"/>
<circle cx="663.2" cy="313.0" r="1.85"/>
<circle cx="655.1" cy="319.0" r="1.85"/>
<circle cx="663.1" cy="321.7" r="1.85"/>
<circle cx="659.9" cy="325.9" r="1.85"/>
<circle cx="661.8" cy="335.6" r="1.85"/>
<circle cx="668.2" cy="335.5" r="1.85"/>
<circle cx="665.2" cy="341.0" r="1.85"/>
<circle cx="656.1" cy="362.6" r="1.85"/>
<circle cx="657.0" cy="374.9" r="1.85"/>
<circle cx="665.2" cy="379.7" r="1.85"/>
<circle cx="655.9" cy="385.2" r="1.85"/>
<circle cx="657.5" cy="402.8" r="1.85"/>
<circle cx="667.4" cy="404.2" r="1.85"/>
<circle cx="664.9" cy="383.8" r="1.85"/>
<circle cx="663.8" cy="399.2" r="1.85"/>
<circle cx="657.1" cy="356.9" r="1.85"/>
<circle cx="665.1" cy="166.3" r="1.85"/>
<circle cx="659.0" cy="159.1" r="1.85"/>
<circle cx="654.1" cy="190.1" r="1.85"/>
<circle cx="658.5" cy="200.8" r="1.85"/>
<circle cx="656.8" cy="247.5" r="1.85"/>
<circle cx="662.3" cy="164.7" r="1.85"/>
<circle cx="666.0" cy="185.7" r="1.85"/>
<circle cx="658.4" cy="195.2" r="1.85"/>
<circle cx="664.2" cy="238.5" r="1.85"/>
<circle cx="654.7" cy="185.3" r="1.85"/>
</g>
<g stroke="#333" stroke-width="1" fill="none">
<path d="M120.8 23.1V446.9"/>
<path d="M120.8 446.9H210.6"/>
<path d="M222.0 446.9H305.0"/>
<path d="M316.7 446.9H399.7"/>
<path d="M411.3 446.9H494.4"/>
<path d="M505.9 446.9H589.0"/>
<path d="M600.6 446.9H684.3"/>
</g>
<g stroke="#222" stroke-width="1" fill="none">
<path d="M118.5 427.95H120.8"/>
<path d="M118.5 331.52H120.8"/>
<path d="M118.5 235.10H120.8"/>
<path d="M118.5 138.68H120.8"/>
<path d="M118.5 42.25H120.8"/>
</g>
<text class="t" x="116.6" y="431.25" text-anchor="end">0.0</text>
<text class="t" x="116.6" y="334.82" text-anchor="end">2.5</text>
<text class="t" x="116.6" y="238.40" text-anchor="end">5.0</text>
<text class="t" x="116.6" y="141.98" text-anchor="end">7.5</text>
<text class="t" x="116.6" y="45.55" text-anchor="end">10.0</text>
<text class="s" x="164.6" y="445.1" text-anchor="middle">*</text>
<text class="s" x="262.6" y="445.1" text-anchor="middle">*</text>
<text class="s" x="357.6" y="445.1" text-anchor="middle">**</text>
<text class="s" x="453.6" y="445.1" text-anchor="middle">*</text>
<text class="s" x="548.8" y="443.6" text-anchor="middle">**</text>
<text class="s" x="642.2" y="445.1" text-anchor="middle">*</text>
<text class="l" x="165.0" y="464.0" text-anchor="middle">High-prevalence</text>
<text class="l" x="165.0" y="478.4" text-anchor="middle">regions</text>
<text class="l" x="263.5" y="464.0" text-anchor="middle">COVID-19 +</text>
<text class="l" x="263.5" y="478.4" text-anchor="middle">workers</text>
<text class="l" x="357.2" y="464.0" text-anchor="middle">Symptomatic</text>
<text class="l" x="357.2" y="478.4" text-anchor="middle">workers</text>
<text class="l" x="453.7" y="464.0" text-anchor="middle">PPE readily</text>
<text class="l" x="453.7" y="478.4" text-anchor="middle">available</text>
<text class="l" x="547.2" y="464.0" text-anchor="middle">COVID-19</text>
<text class="l" x="547.2" y="478.4" text-anchor="middle">protocol activation</text>
<text class="l" x="645.6" y="464.0" text-anchor="middle">Increased ICU</text>
<text class="l" x="645.6" y="478.4" text-anchor="middle">bed capacity</text>
</svg></body></html>
